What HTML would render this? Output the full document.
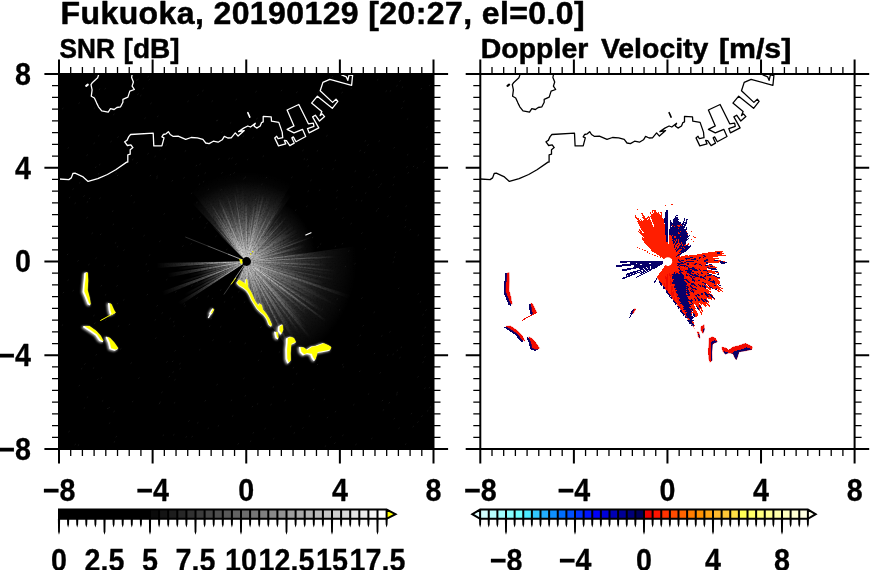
<!DOCTYPE html>
<html><head><meta charset="utf-8"><title>Fukuoka radar</title>
<style>html,body{margin:0;padding:0;background:#fff;}svg{display:block;}text{font-family:"Liberation Sans",sans-serif;font-weight:bold;fill:#000;}</style>
</head><body>
<svg width="870" height="570" viewBox="0 0 870 570">
<rect x="0" y="0" width="870" height="570" fill="#fff"/>
<defs>
<radialGradient id="g30" gradientUnits="userSpaceOnUse" cx="246.6" cy="261.5" r="30"><stop offset="0" stop-color="#fff" stop-opacity="1"/><stop offset="0.12" stop-color="#fff" stop-opacity="0.95"/><stop offset="0.3" stop-color="#fff" stop-opacity="0.62"/><stop offset="0.5" stop-color="#fff" stop-opacity="0.38"/><stop offset="0.75" stop-color="#fff" stop-opacity="0.16"/><stop offset="1" stop-color="#fff" stop-opacity="0"/></radialGradient>
<radialGradient id="g40" gradientUnits="userSpaceOnUse" cx="246.6" cy="261.5" r="40"><stop offset="0" stop-color="#fff" stop-opacity="1"/><stop offset="0.12" stop-color="#fff" stop-opacity="0.95"/><stop offset="0.3" stop-color="#fff" stop-opacity="0.62"/><stop offset="0.5" stop-color="#fff" stop-opacity="0.38"/><stop offset="0.75" stop-color="#fff" stop-opacity="0.16"/><stop offset="1" stop-color="#fff" stop-opacity="0"/></radialGradient>
<radialGradient id="g50" gradientUnits="userSpaceOnUse" cx="246.6" cy="261.5" r="50"><stop offset="0" stop-color="#fff" stop-opacity="1"/><stop offset="0.12" stop-color="#fff" stop-opacity="0.95"/><stop offset="0.3" stop-color="#fff" stop-opacity="0.62"/><stop offset="0.5" stop-color="#fff" stop-opacity="0.38"/><stop offset="0.75" stop-color="#fff" stop-opacity="0.16"/><stop offset="1" stop-color="#fff" stop-opacity="0"/></radialGradient>
<radialGradient id="g60" gradientUnits="userSpaceOnUse" cx="246.6" cy="261.5" r="60"><stop offset="0" stop-color="#fff" stop-opacity="1"/><stop offset="0.12" stop-color="#fff" stop-opacity="0.95"/><stop offset="0.3" stop-color="#fff" stop-opacity="0.62"/><stop offset="0.5" stop-color="#fff" stop-opacity="0.38"/><stop offset="0.75" stop-color="#fff" stop-opacity="0.16"/><stop offset="1" stop-color="#fff" stop-opacity="0"/></radialGradient>
<radialGradient id="g70" gradientUnits="userSpaceOnUse" cx="246.6" cy="261.5" r="70"><stop offset="0" stop-color="#fff" stop-opacity="1"/><stop offset="0.12" stop-color="#fff" stop-opacity="0.95"/><stop offset="0.3" stop-color="#fff" stop-opacity="0.62"/><stop offset="0.5" stop-color="#fff" stop-opacity="0.38"/><stop offset="0.75" stop-color="#fff" stop-opacity="0.16"/><stop offset="1" stop-color="#fff" stop-opacity="0"/></radialGradient>
<radialGradient id="g80" gradientUnits="userSpaceOnUse" cx="246.6" cy="261.5" r="80"><stop offset="0" stop-color="#fff" stop-opacity="1"/><stop offset="0.12" stop-color="#fff" stop-opacity="0.95"/><stop offset="0.3" stop-color="#fff" stop-opacity="0.62"/><stop offset="0.5" stop-color="#fff" stop-opacity="0.38"/><stop offset="0.75" stop-color="#fff" stop-opacity="0.16"/><stop offset="1" stop-color="#fff" stop-opacity="0"/></radialGradient>
<radialGradient id="g90" gradientUnits="userSpaceOnUse" cx="246.6" cy="261.5" r="90"><stop offset="0" stop-color="#fff" stop-opacity="1"/><stop offset="0.12" stop-color="#fff" stop-opacity="0.95"/><stop offset="0.3" stop-color="#fff" stop-opacity="0.62"/><stop offset="0.5" stop-color="#fff" stop-opacity="0.38"/><stop offset="0.75" stop-color="#fff" stop-opacity="0.16"/><stop offset="1" stop-color="#fff" stop-opacity="0"/></radialGradient>
<radialGradient id="g100" gradientUnits="userSpaceOnUse" cx="246.6" cy="261.5" r="100"><stop offset="0" stop-color="#fff" stop-opacity="1"/><stop offset="0.12" stop-color="#fff" stop-opacity="0.95"/><stop offset="0.3" stop-color="#fff" stop-opacity="0.62"/><stop offset="0.5" stop-color="#fff" stop-opacity="0.38"/><stop offset="0.75" stop-color="#fff" stop-opacity="0.16"/><stop offset="1" stop-color="#fff" stop-opacity="0"/></radialGradient>
<radialGradient id="g110" gradientUnits="userSpaceOnUse" cx="246.6" cy="261.5" r="110"><stop offset="0" stop-color="#fff" stop-opacity="1"/><stop offset="0.12" stop-color="#fff" stop-opacity="0.95"/><stop offset="0.3" stop-color="#fff" stop-opacity="0.62"/><stop offset="0.5" stop-color="#fff" stop-opacity="0.38"/><stop offset="0.75" stop-color="#fff" stop-opacity="0.16"/><stop offset="1" stop-color="#fff" stop-opacity="0"/></radialGradient>
<filter id="blur" x="-50%" y="-50%" width="200%" height="200%"><feGaussianBlur stdDeviation="1.1"/></filter>
<filter id="grain" x="0" y="0" width="100%" height="100%" filterUnits="objectBoundingBox"><feTurbulence type="fractalNoise" baseFrequency="0.6" numOctaves="1" seed="4" result="n"/><feColorMatrix in="n" type="matrix" values="0 0 0 0 1  0 0 0 0 1  0 0 0 0 1  0.9 0 0 0 0.52" result="a"/><feComposite in="SourceGraphic" in2="a" operator="in"/></filter>
<filter id="blur2" x="-50%" y="-50%" width="200%" height="200%"><feGaussianBlur stdDeviation="0.6"/></filter>
<clipPath id="clipL"><rect x="59.0" y="74.0" width="374.5" height="375.0"/></clipPath>
<clipPath id="clipR"><rect x="480.3" y="74.0" width="374.3" height="375.0"/></clipPath>
<clipPath id="hpL"><path d="M139.1,147.5 L436.1,548.0 L836.1,548.0 L539.1,147.5 Z"/></clipPath>
<clipPath id="hpR"><path d="M560.4,147.5 L857.4,548.0 L1257.4,548.0 L960.4,147.5 Z"/></clipPath>
</defs>
<rect x="59.0" y="74.0" width="374.5" height="375.0" fill="#000"/>
<g clip-path="url(#clipL)">
<g filter="url(#grain)">
<g><path d="M244.2,258.9 L192.0,203.0 A80,80 0 0 1 291.3,195.2 L248.6,258.6 A3.5,3.5 0 0 0 244.2,258.9Z" fill="url(#g80)" fill-opacity="0.45"/><path d="M244.4,258.7 L191.2,190.6 A90,90 0 0 1 291.6,183.6 L248.3,258.5 A3.5,3.5 0 0 0 244.4,258.7Z" fill="url(#g90)" fill-opacity="0.25"/><path d="M248.6,258.6 L285.7,203.5 A70,70 0 0 1 316.2,254.2 L250.1,261.1 A3.5,3.5 0 0 0 248.6,258.6Z" fill="url(#g70)" fill-opacity="0.5"/><path d="M250.1,261.0 L355.5,246.2 A110,110 0 0 1 350.0,299.1 L249.9,262.7 A3.5,3.5 0 0 0 250.1,261.0Z" fill="url(#g110)" fill-opacity="0.4"/><path d="M250.1,261.5 L336.6,261.5 L336.6,263.4 L250.1,261.6Z" fill="url(#g90)" fill-opacity="0.10"/><path d="M250.1,261.6 L326.6,263.0 L326.5,264.7 L250.1,261.6Z" fill="url(#g80)" fill-opacity="0.35"/><path d="M250.1,261.6 L326.5,264.6 L326.5,266.2 L250.1,261.7Z" fill="url(#g80)" fill-opacity="0.85"/><path d="M250.1,261.7 L306.5,265.0 L306.4,266.2 L250.1,261.8Z" fill="url(#g60)" fill-opacity="0.40"/><path d="M250.1,261.8 L316.4,266.9 L316.3,268.3 L250.1,261.8Z" fill="url(#g70)" fill-opacity="0.22"/><path d="M250.1,261.8 L336.2,270.1 L336.0,272.0 L250.1,261.9Z" fill="url(#g90)" fill-opacity="0.56"/><path d="M250.1,261.9 L306.2,268.4 L306.0,269.6 L250.1,262.0Z" fill="url(#g60)" fill-opacity="0.30"/><path d="M250.1,262.0 L335.8,273.6 L335.5,275.4 L250.1,262.0Z" fill="url(#g90)" fill-opacity="0.23"/><path d="M250.1,262.0 L315.8,272.2 L315.5,273.7 L250.0,262.1Z" fill="url(#g70)" fill-opacity="0.18"/><path d="M250.0,262.1 L295.9,270.1 L295.7,271.1 L250.0,262.2Z" fill="url(#g50)" fill-opacity="0.80"/><path d="M250.0,262.2 L334.9,278.7 L334.6,280.5 L250.0,262.2Z" fill="url(#g90)" fill-opacity="0.48"/><path d="M250.0,262.2 L324.8,278.3 L324.5,279.9 L250.0,262.3Z" fill="url(#g80)" fill-opacity="0.19"/><path d="M250.0,262.3 L305.0,275.2 L304.7,276.4 L250.0,262.4Z" fill="url(#g60)" fill-opacity="0.78"/><path d="M250.0,262.4 L324.1,281.3 L323.7,282.9 L250.0,262.4Z" fill="url(#g80)" fill-opacity="0.42"/><path d="M250.0,262.4 L323.7,282.7 L323.3,284.4 L250.0,262.5Z" fill="url(#g80)" fill-opacity="0.63"/><path d="M250.0,262.5 L323.3,284.2 L322.8,285.8 L249.9,262.6Z" fill="url(#g80)" fill-opacity="0.20"/><path d="M249.9,262.6 L322.9,285.7 L322.3,287.3 L249.9,262.6Z" fill="url(#g80)" fill-opacity="0.33"/><path d="M244.1,259.1 L218.0,233.5 L218.6,232.9 L244.2,259.0Z" fill="url(#g40)" fill-opacity="0.70"/><path d="M244.1,259.0 L211.6,225.8 L212.3,225.1 L244.2,259.0Z" fill="url(#g50)" fill-opacity="0.79"/><path d="M244.2,259.0 L226.0,239.7 L226.4,239.3 L244.2,258.9Z" fill="url(#g30)" fill-opacity="0.77"/><path d="M244.2,258.9 L212.9,224.5 L213.7,223.8 L244.3,258.9Z" fill="url(#g50)" fill-opacity="1.00"/><path d="M244.3,258.9 L220.3,231.4 L220.9,230.9 L244.4,258.8Z" fill="url(#g40)" fill-opacity="0.48"/><path d="M244.3,258.8 L214.4,223.3 L215.2,222.6 L244.4,258.8Z" fill="url(#g50)" fill-opacity="0.12"/><path d="M244.4,258.8 L215.1,222.6 L216.0,222.0 L244.5,258.7Z" fill="url(#g50)" fill-opacity="0.99"/><path d="M244.5,258.7 L215.9,222.0 L216.7,221.4 L244.5,258.7Z" fill="url(#g50)" fill-opacity="0.91"/><path d="M244.5,258.7 L216.6,221.5 L217.5,220.8 L244.6,258.7Z" fill="url(#g50)" fill-opacity="0.35"/><path d="M244.6,258.7 L217.4,220.9 L218.3,220.3 L244.6,258.6Z" fill="url(#g50)" fill-opacity="0.69"/><path d="M244.6,258.6 L212.5,212.1 L213.6,211.4 L244.7,258.6Z" fill="url(#g60)" fill-opacity="1.00"/><path d="M244.7,258.6 L219.0,219.8 L219.9,219.2 L244.7,258.5Z" fill="url(#g50)" fill-opacity="0.50"/><path d="M244.7,258.5 L209.1,202.4 L210.3,201.6 L244.8,258.5Z" fill="url(#g70)" fill-opacity="0.80"/><path d="M244.8,258.5 L220.6,218.8 L221.5,218.2 L244.8,258.5Z" fill="url(#g50)" fill-opacity="0.73"/><path d="M244.8,258.5 L221.4,218.3 L222.4,217.8 L244.9,258.4Z" fill="url(#g50)" fill-opacity="0.94"/><path d="M244.9,258.4 L217.4,209.1 L218.5,208.5 L245.0,258.4Z" fill="url(#g60)" fill-opacity="1.00"/><path d="M245.0,258.4 L218.4,208.5 L219.5,207.9 L245.0,258.4Z" fill="url(#g60)" fill-opacity="0.33"/><path d="M245.0,258.4 L224.0,216.9 L224.9,216.4 L245.1,258.3Z" fill="url(#g50)" fill-opacity="0.73"/><path d="M245.1,258.3 L220.5,207.5 L221.6,206.9 L245.1,258.3Z" fill="url(#g60)" fill-opacity="1.00"/><path d="M245.1,258.3 L217.3,197.9 L218.7,197.3 L245.2,258.3Z" fill="url(#g70)" fill-opacity="1.00"/><path d="M245.2,258.3 L218.6,197.4 L219.9,196.8 L245.3,258.3Z" fill="url(#g70)" fill-opacity="0.16"/><path d="M245.3,258.3 L219.8,196.8 L221.2,196.3 L245.3,258.2Z" fill="url(#g70)" fill-opacity="0.35"/><path d="M245.3,258.2 L224.7,205.6 L225.9,205.2 L245.4,258.2Z" fill="url(#g60)" fill-opacity="0.62"/><path d="M245.4,258.2 L232.7,224.0 L233.5,223.7 L245.5,258.2Z" fill="url(#g40)" fill-opacity="1.00"/><path d="M245.4,258.2 L230.2,214.3 L231.1,213.9 L245.5,258.2Z" fill="url(#g50)" fill-opacity="0.64"/><path d="M245.5,258.2 L224.9,195.0 L226.3,194.5 L245.6,258.2Z" fill="url(#g70)" fill-opacity="0.11"/><path d="M245.6,258.2 L226.1,194.6 L227.5,194.1 L245.6,258.1Z" fill="url(#g70)" fill-opacity="0.64"/><path d="M245.6,258.1 L232.9,213.4 L233.9,213.1 L245.7,258.1Z" fill="url(#g50)" fill-opacity="0.69"/><path d="M245.7,258.1 L233.8,213.2 L234.8,212.9 L245.8,258.1Z" fill="url(#g50)" fill-opacity="1.00"/><path d="M245.8,258.1 L230.0,193.5 L231.4,193.2 L245.8,258.1Z" fill="url(#g70)" fill-opacity="0.13"/><path d="M245.8,258.1 L233.5,202.9 L234.7,202.7 L245.9,258.1Z" fill="url(#g60)" fill-opacity="0.42"/><path d="M245.9,258.1 L236.6,212.5 L237.7,212.3 L246.0,258.1Z" fill="url(#g50)" fill-opacity="1.00"/><path d="M246.0,258.1 L234.0,192.6 L235.4,192.4 L246.0,258.0Z" fill="url(#g70)" fill-opacity="1.00"/><path d="M246.0,258.0 L240.1,222.0 L241.0,221.9 L246.1,258.0Z" fill="url(#g40)" fill-opacity="0.37"/><path d="M246.1,258.0 L235.2,182.3 L236.9,182.1 L246.2,258.0Z" fill="url(#g80)" fill-opacity="0.28"/><path d="M246.2,258.0 L240.4,211.9 L241.5,211.8 L246.2,258.0Z" fill="url(#g50)" fill-opacity="0.46"/><path d="M246.2,258.0 L239.3,191.9 L240.7,191.7 L246.3,258.0Z" fill="url(#g70)" fill-opacity="0.34"/><path d="M246.3,258.0 L240.6,191.8 L242.1,191.6 L246.4,258.0Z" fill="url(#g70)" fill-opacity="0.21"/><path d="M246.4,258.0 L241.3,181.7 L243.0,181.6 L246.4,258.0Z" fill="url(#g80)" fill-opacity="0.19"/><path d="M246.4,258.0 L244.7,221.5 L245.6,221.5 L246.5,258.0Z" fill="url(#g40)" fill-opacity="0.60"/><path d="M246.5,258.0 L244.9,201.5 L246.2,201.5 L246.6,258.0Z" fill="url(#g60)" fill-opacity="1.00"/><path d="M246.6,258.0 L246.1,201.5 L247.3,201.5 L246.6,258.0Z" fill="url(#g60)" fill-opacity="0.87"/><path d="M246.6,258.0 L247.1,211.5 L248.2,211.5 L246.7,258.0Z" fill="url(#g50)" fill-opacity="0.15"/><path d="M246.7,258.0 L248.1,211.5 L249.1,211.6 L246.8,258.0Z" fill="url(#g50)" fill-opacity="0.20"/><path d="M246.8,258.0 L248.6,221.5 L249.4,221.6 L246.8,258.0Z" fill="url(#g40)" fill-opacity="0.13"/><path d="M246.8,258.0 L250.0,211.6 L251.0,211.7 L246.9,258.0Z" fill="url(#g50)" fill-opacity="1.00"/><path d="M246.9,258.0 L251.0,211.7 L252.0,211.8 L247.0,258.0Z" fill="url(#g50)" fill-opacity="0.58"/><path d="M247.0,258.0 L254.0,191.9 L255.5,192.1 L247.0,258.0Z" fill="url(#g70)" fill-opacity="0.26"/><path d="M247.0,258.0 L254.1,202.0 L255.4,202.1 L247.1,258.0Z" fill="url(#g60)" fill-opacity="1.00"/><path d="M247.1,258.0 L258.1,182.3 L259.8,182.6 L247.2,258.0Z" fill="url(#g80)" fill-opacity="0.10"/><path d="M247.2,258.0 L256.4,202.3 L257.6,202.5 L247.2,258.1Z" fill="url(#g60)" fill-opacity="0.12"/><path d="M247.2,258.1 L259.4,192.7 L260.8,193.0 L247.3,258.1Z" fill="url(#g70)" fill-opacity="0.62"/><path d="M247.3,258.1 L258.7,202.7 L259.9,203.0 L247.4,258.1Z" fill="url(#g60)" fill-opacity="0.99"/><path d="M247.4,258.1 L262.0,193.2 L263.4,193.5 L247.4,258.1Z" fill="url(#g70)" fill-opacity="0.45"/><path d="M247.4,258.1 L263.3,193.5 L264.7,193.9 L247.5,258.1Z" fill="url(#g70)" fill-opacity="1.00"/><path d="M247.5,258.1 L259.5,213.2 L260.5,213.5 L247.6,258.1Z" fill="url(#g50)" fill-opacity="0.85"/><path d="M247.6,258.1 L263.1,203.8 L264.3,204.2 L247.6,258.2Z" fill="url(#g60)" fill-opacity="0.34"/><path d="M247.6,258.2 L267.2,194.6 L268.6,195.0 L247.7,258.2Z" fill="url(#g70)" fill-opacity="0.57"/><path d="M247.7,258.2 L268.5,195.0 L269.9,195.5 L247.8,258.2Z" fill="url(#g70)" fill-opacity="0.28"/><path d="M247.8,258.2 L269.7,195.4 L271.1,195.9 L247.8,258.2Z" fill="url(#g70)" fill-opacity="0.42"/><path d="M247.8,258.2 L267.5,205.3 L268.7,205.7 L247.9,258.2Z" fill="url(#g60)" fill-opacity="0.24"/><path d="M247.9,258.2 L264.9,215.0 L265.9,215.4 L248.0,258.3Z" fill="url(#g50)" fill-opacity="0.16"/><path d="M247.9,258.3 L265.8,215.3 L266.8,215.8 L248.0,258.3Z" fill="url(#g50)" fill-opacity="1.00"/><path d="M248.0,258.3 L270.7,206.6 L271.9,207.1 L248.1,258.3Z" fill="url(#g60)" fill-opacity="1.00"/><path d="M248.1,258.3 L276.0,198.0 L277.3,198.6 L248.1,258.4Z" fill="url(#g70)" fill-opacity="0.12"/><path d="M248.1,258.4 L277.2,198.5 L278.5,199.2 L248.2,258.4Z" fill="url(#g70)" fill-opacity="0.12"/><path d="M248.2,258.4 L278.4,199.1 L279.7,199.8 L248.3,258.4Z" fill="url(#g70)" fill-opacity="0.10"/><path d="M248.2,258.4 L270.2,217.4 L271.1,217.9 L248.3,258.4Z" fill="url(#g50)" fill-opacity="0.21"/><path d="M248.3,258.4 L275.9,209.1 L277.0,209.7 L248.4,258.5Z" fill="url(#g60)" fill-opacity="1.00"/><path d="M248.4,258.5 L281.9,201.1 L283.2,201.8 L248.4,258.5Z" fill="url(#g70)" fill-opacity="0.77"/><path d="M248.4,258.5 L283.1,201.8 L284.3,202.5 L248.5,258.6Z" fill="url(#g70)" fill-opacity="0.17"/><path d="M248.5,258.5 L273.5,219.3 L274.3,219.9 L248.5,258.6Z" fill="url(#g50)" fill-opacity="1.00"/><path d="M248.5,258.6 L268.7,228.2 L269.4,228.7 L248.6,258.6Z" fill="url(#g40)" fill-opacity="0.62"/><path d="M248.6,258.6 L269.4,228.6 L270.1,229.1 L248.7,258.7Z" fill="url(#g40)" fill-opacity="0.88"/><path d="M248.6,258.7 L281.7,212.8 L282.7,213.6 L248.7,258.7Z" fill="url(#g60)" fill-opacity="0.58"/><path d="M248.7,258.7 L270.6,229.5 L271.3,230.0 L248.8,258.7Z" fill="url(#g40)" fill-opacity="0.87"/><path d="M248.8,258.7 L271.2,230.0 L271.9,230.5 L248.8,258.8Z" fill="url(#g40)" fill-opacity="1.00"/><path d="M248.8,258.8 L278.1,222.7 L278.9,223.4 L248.9,258.8Z" fill="url(#g50)" fill-opacity="0.97"/><path d="M248.9,258.8 L285.3,215.7 L286.3,216.5 L248.9,258.9Z" fill="url(#g60)" fill-opacity="0.21"/><path d="M248.9,258.9 L286.2,216.4 L287.1,217.3 L249.0,258.9Z" fill="url(#g60)" fill-opacity="0.97"/><path d="M249.0,258.9 L273.6,232.0 L274.2,232.5 L249.0,259.0Z" fill="url(#g40)" fill-opacity="1.00"/><path d="M249.0,259.0 L274.1,232.5 L274.7,233.1 L249.1,259.0Z" fill="url(#g40)" fill-opacity="0.28"/><path d="M249.1,259.0 L281.7,225.9 L282.4,226.6 L249.1,259.1Z" fill="url(#g50)" fill-opacity="0.62"/><path d="M249.1,259.1 L282.4,226.6 L283.1,227.3 L249.2,259.1Z" fill="url(#g50)" fill-opacity="0.40"/><path d="M249.2,259.1 L275.8,234.1 L276.3,234.7 L249.2,259.2Z" fill="url(#g40)" fill-opacity="0.31"/><path d="M249.2,259.2 L276.3,234.7 L276.8,235.3 L249.2,259.2Z" fill="url(#g40)" fill-opacity="0.53"/><path d="M249.2,259.2 L291.9,222.1 L292.7,223.1 L249.3,259.3Z" fill="url(#g60)" fill-opacity="0.51"/><path d="M249.3,259.3 L285.0,229.4 L285.6,230.2 L249.3,259.3Z" fill="url(#g50)" fill-opacity="0.22"/><path d="M249.3,259.3 L277.8,236.4 L278.3,237.1 L249.4,259.4Z" fill="url(#g40)" fill-opacity="0.75"/><path d="M249.4,259.4 L294.1,224.8 L294.8,225.8 L249.4,259.4Z" fill="url(#g60)" fill-opacity="0.53"/><path d="M249.4,259.4 L294.8,225.7 L295.5,226.7 L249.5,259.5Z" fill="url(#g60)" fill-opacity="0.39"/><path d="M249.4,259.5 L287.3,232.5 L287.9,233.3 L249.5,259.5Z" fill="url(#g50)" fill-opacity="1.00"/><path d="M249.5,259.5 L287.9,233.3 L288.4,234.1 L249.5,259.6Z" fill="url(#g50)" fill-opacity="1.00"/><path d="M249.5,259.6 L296.7,228.6 L297.4,229.6 L249.6,259.6Z" fill="url(#g60)" fill-opacity="0.57"/><path d="M249.6,259.6 L297.4,229.5 L298.0,230.6 L249.6,259.7Z" fill="url(#g60)" fill-opacity="0.48"/><path d="M249.6,259.7 L298.0,230.5 L298.6,231.6 L249.6,259.8Z" fill="url(#g60)" fill-opacity="0.31"/><path d="M249.6,259.8 L281.2,241.5 L281.7,242.2 L249.7,259.8Z" fill="url(#g40)" fill-opacity="0.62"/><path d="M249.7,259.8 L299.1,232.5 L299.7,233.6 L249.7,259.9Z" fill="url(#g60)" fill-opacity="0.49"/><path d="M249.7,259.9 L290.8,238.2 L291.3,239.1 L249.7,259.9Z" fill="url(#g50)" fill-opacity="0.97"/><path d="M249.7,259.9 L291.3,239.0 L291.7,240.0 L249.8,260.0Z" fill="url(#g50)" fill-opacity="0.40"/><path d="M249.8,260.0 L282.7,244.2 L283.0,245.0 L249.8,260.1Z" fill="url(#g40)" fill-opacity="1.00"/><path d="M249.8,260.0 L301.2,236.6 L301.7,237.8 L249.8,260.1Z" fill="url(#g60)" fill-opacity="0.76"/><path d="M249.8,260.1 L292.5,241.6 L292.9,242.6 L249.8,260.2Z" fill="url(#g50)" fill-opacity="0.19"/><path d="M249.8,260.2 L302.1,238.7 L302.6,239.9 L249.9,260.2Z" fill="url(#g60)" fill-opacity="0.46"/><path d="M249.9,260.2 L311.9,236.2 L312.4,237.6 L249.9,260.3Z" fill="url(#g70)" fill-opacity="0.82"/><path d="M249.9,260.3 L284.2,247.8 L284.4,248.5 L249.9,260.4Z" fill="url(#g40)" fill-opacity="0.22"/><path d="M249.9,260.4 L293.9,245.2 L294.2,246.2 L249.9,260.4Z" fill="url(#g50)" fill-opacity="0.39"/><path d="M249.9,260.4 L284.7,249.2 L284.9,250.0 L250.0,260.5Z" fill="url(#g40)" fill-opacity="0.54"/><path d="M250.0,260.5 L304.0,244.2 L304.4,245.4 L250.0,260.6Z" fill="url(#g60)" fill-opacity="0.53"/><path d="M250.0,260.6 L304.4,245.3 L304.7,246.5 L250.0,260.6Z" fill="url(#g60)" fill-opacity="0.79"/><path d="M250.0,260.6 L304.7,246.4 L305.0,247.6 L250.0,260.7Z" fill="url(#g60)" fill-opacity="0.79"/><path d="M250.0,260.7 L304.9,247.5 L305.2,248.7 L250.0,260.8Z" fill="url(#g60)" fill-opacity="0.09"/><path d="M250.0,260.7 L295.4,250.8 L295.6,251.8 L250.0,260.8Z" fill="url(#g50)" fill-opacity="0.22"/><path d="M250.0,260.8 L305.4,249.7 L305.7,251.0 L250.0,260.9Z" fill="url(#g60)" fill-opacity="0.36"/><path d="M250.0,260.9 L295.8,252.6 L296.0,253.7 L250.1,261.0Z" fill="url(#g50)" fill-opacity="0.49"/><path d="M250.1,260.9 L305.8,252.0 L306.0,253.3 L250.1,261.0Z" fill="url(#g60)" fill-opacity="0.29"/><path d="M250.1,261.0 L306.0,253.1 L306.2,254.4 L250.1,261.1Z" fill="url(#g60)" fill-opacity="0.69"/><path d="M250.1,261.1 L316.1,253.1 L316.3,254.5 L250.1,261.2Z" fill="url(#g70)" fill-opacity="0.20"/><path d="M250.1,261.1 L326.2,253.4 L326.3,255.1 L250.1,261.2Z" fill="url(#g80)" fill-opacity="0.18"/><path d="M250.1,261.2 L326.3,254.9 L326.5,256.6 L250.1,261.3Z" fill="url(#g80)" fill-opacity="0.18"/><path d="M250.1,261.3 L336.4,255.8 L336.5,257.7 L250.1,261.4Z" fill="url(#g90)" fill-opacity="0.81"/><path d="M250.1,261.3 L306.5,258.9 L306.6,260.1 L250.1,261.4Z" fill="url(#g60)" fill-opacity="0.11"/><path d="M250.1,261.4 L326.6,259.5 L326.6,261.2 L250.1,261.5Z" fill="url(#g80)" fill-opacity="0.32"/><path d="M250.1,261.5 L306.6,261.2 L306.6,262.4 L250.1,261.6Z" fill="url(#g60)" fill-opacity="0.30"/><path d="M243.1,261.8 L156.8,267.9 L156.6,262.9 L243.1,261.6Z" fill="url(#g90)" fill-opacity="0.85"/><path d="M243.1,261.9 L177.2,270.3 L176.8,267.4 L243.1,261.8Z" fill="url(#g70)" fill-opacity="0.45"/><path d="M243.2,262.2 L168.2,277.4 L167.5,273.3 L243.1,262.0Z" fill="url(#g80)" fill-opacity="0.75"/><path d="M243.2,262.4 L188.7,277.2 L188.1,274.8 L243.2,262.3Z" fill="url(#g60)" fill-opacity="0.4"/><path d="M243.3,262.6 L180.2,283.7 L179.5,281.4 L243.2,262.5Z" fill="url(#g70)" fill-opacity="0.5"/><path d="M243.4,262.8 L163.3,295.5 L161.7,291.4 L243.3,262.7Z" fill="url(#g90)" fill-opacity="0.8"/><path d="M243.5,263.0 L192.8,288.0 L191.7,285.7 L243.4,262.9Z" fill="url(#g60)" fill-opacity="0.45"/><path d="M243.6,263.2 L185.7,296.0 L184.5,293.8 L243.5,263.1Z" fill="url(#g70)" fill-opacity="0.5"/><path d="M243.7,263.4 L179.7,305.4 L177.8,302.3 L243.6,263.3Z" fill="url(#g80)" fill-opacity="0.75"/><path d="M243.7,263.4 L204.9,289.1 A50,50 0 0 1 196.6,261.9 L243.1,261.5 A3.5,3.5 0 0 0 243.7,263.4Z" fill="url(#g50)" fill-opacity="0.55"/></g>
<g clip-path="url(#hpL)"><path d="M249.9,262.6 L351.2,295.5 A110,110 0 0 1 195.0,358.6 L245.0,264.6 A3.5,3.5 0 0 0 249.9,262.6Z" fill="url(#g110)" fill-opacity="0.48"/><path d="M249.9,262.6 L341.3,293.6 L340.6,295.5 L249.9,262.7Z" fill="url(#g100)" fill-opacity="0.33"/><path d="M249.9,262.7 L312.5,285.2 L312.0,286.6 L249.9,262.8Z" fill="url(#g70)" fill-opacity="0.73"/><path d="M249.9,262.7 L312.0,286.5 L311.5,287.8 L249.8,262.8Z" fill="url(#g70)" fill-opacity="0.53"/><path d="M249.8,262.8 L311.5,287.7 L310.9,289.1 L249.8,262.9Z" fill="url(#g70)" fill-opacity="0.41"/><path d="M249.8,262.9 L320.2,292.9 L319.5,294.4 L249.8,262.9Z" fill="url(#g80)" fill-opacity="0.61"/><path d="M249.8,262.9 L328.7,298.4 L327.9,300.1 L249.8,263.0Z" fill="url(#g90)" fill-opacity="0.41"/><path d="M249.8,263.0 L337.0,304.2 L336.1,306.1 L249.7,263.1Z" fill="url(#g100)" fill-opacity="0.37"/><path d="M249.7,263.1 L327.2,301.5 L326.4,303.2 L249.7,263.1Z" fill="url(#g90)" fill-opacity="0.18"/><path d="M249.7,263.1 L317.6,298.4 L316.8,299.9 L249.7,263.2Z" fill="url(#g80)" fill-opacity="0.38"/><path d="M249.7,263.2 L316.8,299.8 L316.0,301.3 L249.6,263.2Z" fill="url(#g80)" fill-opacity="0.59"/><path d="M249.6,263.2 L298.7,291.2 L298.1,292.3 L249.6,263.3Z" fill="url(#g60)" fill-opacity="0.37"/><path d="M249.6,263.3 L323.9,307.6 L322.9,309.2 L249.6,263.4Z" fill="url(#g90)" fill-opacity="0.12"/><path d="M249.6,263.3 L323.0,309.1 L322.0,310.6 L249.5,263.4Z" fill="url(#g90)" fill-opacity="0.48"/><path d="M249.5,263.4 L322.1,310.5 L321.0,312.1 L249.5,263.5Z" fill="url(#g90)" fill-opacity="0.95"/><path d="M249.5,263.5 L304.6,300.7 L303.7,302.0 L249.5,263.5Z" fill="url(#g70)" fill-opacity="0.10"/><path d="M249.5,263.5 L303.8,301.9 L302.9,303.0 L249.4,263.6Z" fill="url(#g70)" fill-opacity="0.55"/><path d="M249.4,263.6 L327.2,320.7 L325.9,322.4 L249.4,263.6Z" fill="url(#g100)" fill-opacity="0.96"/><path d="M249.4,263.6 L310.2,310.1 L309.1,311.4 L249.3,263.7Z" fill="url(#g80)" fill-opacity="0.82"/><path d="M249.3,263.7 L293.6,298.9 L292.8,299.8 L249.3,263.7Z" fill="url(#g60)" fill-opacity="0.82"/><path d="M249.3,263.7 L308.2,312.5 L307.2,313.8 L249.2,263.8Z" fill="url(#g80)" fill-opacity="0.28"/><path d="M249.3,263.8 L307.3,313.7 L306.1,314.9 L249.2,263.8Z" fill="url(#g80)" fill-opacity="0.70"/><path d="M249.2,263.8 L298.8,308.2 L297.8,309.2 L249.2,263.9Z" fill="url(#g70)" fill-opacity="0.15"/><path d="M249.2,263.9 L297.9,309.2 L296.9,310.2 L249.1,263.9Z" fill="url(#g70)" fill-opacity="0.29"/><path d="M249.1,263.9 L304.1,317.1 L303.0,318.3 L249.1,264.0Z" fill="url(#g80)" fill-opacity="0.17"/><path d="M249.1,264.0 L310.1,325.3 L308.8,326.6 L249.0,264.0Z" fill="url(#g90)" fill-opacity="0.40"/><path d="M249.0,264.0 L302.0,319.2 L300.8,320.4 L249.0,264.1Z" fill="url(#g80)" fill-opacity="0.76"/><path d="M249.0,264.1 L307.6,327.6 L306.2,328.9 L248.9,264.1Z" fill="url(#g90)" fill-opacity="0.42"/><path d="M248.9,264.1 L306.4,328.8 L304.9,330.0 L248.9,264.2Z" fill="url(#g90)" fill-opacity="0.87"/><path d="M248.9,264.2 L311.5,337.5 L309.9,338.9 L248.8,264.2Z" fill="url(#g100)" fill-opacity="0.77"/><path d="M248.8,264.2 L310.1,338.8 L308.4,340.1 L248.8,264.3Z" fill="url(#g100)" fill-opacity="0.09"/><path d="M248.8,264.2 L296.2,324.3 L294.9,325.3 L248.7,264.3Z" fill="url(#g80)" fill-opacity="0.25"/><path d="M248.7,264.3 L301.0,333.2 L299.5,334.3 L248.7,264.3Z" fill="url(#g90)" fill-opacity="0.76"/><path d="M248.7,264.3 L299.6,334.2 L298.1,335.3 L248.6,264.4Z" fill="url(#g90)" fill-opacity="0.16"/><path d="M248.6,264.4 L286.8,318.8 L285.5,319.7 L248.5,264.4Z" fill="url(#g70)" fill-opacity="0.11"/><path d="M248.6,264.4 L291.2,327.9 L289.8,328.8 L248.5,264.4Z" fill="url(#g80)" fill-opacity="0.78"/><path d="M248.5,264.4 L295.4,337.2 L293.8,338.2 L248.4,264.5Z" fill="url(#g90)" fill-opacity="0.55"/><path d="M248.4,264.5 L293.9,338.1 L292.3,339.0 L248.4,264.5Z" fill="url(#g90)" fill-opacity="0.79"/><path d="M248.4,264.5 L287.3,330.4 L285.9,331.2 L248.3,264.5Z" fill="url(#g80)" fill-opacity="0.08"/><path d="M248.3,264.5 L276.1,313.7 L275.0,314.3 L248.3,264.6Z" fill="url(#g60)" fill-opacity="0.42"/><path d="M248.3,264.6 L284.6,331.9 L283.2,332.7 L248.2,264.6Z" fill="url(#g80)" fill-opacity="0.49"/><path d="M248.2,264.6 L292.5,350.4 L290.6,351.3 L248.1,264.6Z" fill="url(#g100)" fill-opacity="0.80"/><path d="M248.1,264.6 L277.5,324.3 L276.2,324.9 L248.1,264.7Z" fill="url(#g70)" fill-opacity="0.14"/><path d="M248.1,264.7 L272.1,315.8 L270.9,316.4 L248.0,264.7Z" fill="url(#g60)" fill-opacity="0.62"/><path d="M248.0,264.7 L279.1,334.6 L277.6,335.2 L248.0,264.7Z" fill="url(#g80)" fill-opacity="0.21"/><path d="M248.0,264.7 L281.6,344.4 L279.9,345.1 L247.9,264.8Z" fill="url(#g90)" fill-opacity="0.17"/><path d="M247.9,264.7 L268.9,317.2 L267.7,317.7 L247.8,264.8Z" fill="url(#g60)" fill-opacity="0.83"/><path d="M247.8,264.8 L278.4,345.7 L276.6,346.3 L247.8,264.8Z" fill="url(#g90)" fill-opacity="0.49"/><path d="M247.8,264.8 L270.1,327.4 L268.7,327.9 L247.7,264.8Z" fill="url(#g70)" fill-opacity="0.97"/><path d="M247.7,264.8 L275.2,346.8 L273.4,347.4 L247.6,264.8Z" fill="url(#g90)" fill-opacity="0.17"/><path d="M247.6,264.8 L264.5,318.8 L263.3,319.1 L247.6,264.9Z" fill="url(#g60)" fill-opacity="0.89"/><path d="M247.6,264.9 L271.9,347.9 L270.0,348.4 L247.5,264.9Z" fill="url(#g90)" fill-opacity="0.40"/><path d="M247.5,264.9 L262.3,319.4 L261.1,319.7 L247.4,264.9Z" fill="url(#g60)" fill-opacity="0.82"/><path d="M247.5,264.9 L268.5,348.8 L266.7,349.2 L247.4,264.9Z" fill="url(#g90)" fill-opacity="0.62"/><path d="M247.4,264.9 L260.1,320.0 L258.9,320.2 L247.3,264.9Z" fill="url(#g60)" fill-opacity="0.50"/><path d="M247.3,264.9 L261.0,330.0 L259.6,330.3 L247.2,264.9Z" fill="url(#g70)" fill-opacity="0.09"/><path d="M247.3,264.9 L257.8,320.4 L256.6,320.7 L247.2,265.0Z" fill="url(#g60)" fill-opacity="0.78"/><path d="M247.2,264.9 L258.4,330.5 L256.9,330.7 L247.1,265.0Z" fill="url(#g70)" fill-opacity="0.08"/><path d="M247.1,265.0 L255.6,320.8 L254.3,321.0 L247.1,265.0Z" fill="url(#g60)" fill-opacity="0.11"/><path d="M247.1,265.0 L257.0,340.8 L255.4,341.0 L247.0,265.0Z" fill="url(#g80)" fill-opacity="0.09"/><path d="M247.0,265.0 L254.4,331.1 L252.9,331.2 L246.9,265.0Z" fill="url(#g70)" fill-opacity="0.66"/><path d="M246.9,265.0 L253.1,331.2 L251.6,331.3 L246.9,265.0Z" fill="url(#g70)" fill-opacity="0.15"/><path d="M246.9,265.0 L253.9,361.2 L251.8,361.4 L246.8,265.0Z" fill="url(#g100)" fill-opacity="0.54"/><path d="M246.8,265.0 L250.4,331.4 L248.9,331.5 L246.7,265.0Z" fill="url(#g70)" fill-opacity="0.99"/><path d="M246.7,265.0 L249.7,351.4 L247.9,351.5 L246.6,265.0Z" fill="url(#g90)" fill-opacity="0.08"/><path d="M246.7,265.0 L247.9,341.5 L246.2,341.5 L246.6,265.0Z" fill="url(#g80)" fill-opacity="0.91"/><path d="M246.6,265.0 L246.3,351.5 L244.4,351.5 L246.5,265.0Z" fill="url(#g90)" fill-opacity="0.74"/><path d="M246.5,265.0 L244.6,351.5 L242.7,351.4 L246.4,265.0Z" fill="url(#g90)" fill-opacity="0.56"/><path d="M246.5,265.0 L243.7,331.4 L242.2,331.4 L246.4,265.0Z" fill="url(#g70)" fill-opacity="0.09"/><path d="M246.4,265.0 L242.9,321.4 L241.7,321.3 L246.3,265.0Z" fill="url(#g60)" fill-opacity="0.25"/><path d="M246.3,265.0 L241.8,321.3 L240.5,321.2 L246.2,265.0Z" fill="url(#g60)" fill-opacity="0.89"/><path d="M246.3,265.0 L240.6,321.2 L239.4,321.1 L246.2,265.0Z" fill="url(#g60)" fill-opacity="0.63"/><path d="M246.2,265.0 L238.3,331.0 L236.9,330.8 L246.1,265.0Z" fill="url(#g70)" fill-opacity="0.32"/><path d="M246.1,265.0 L235.6,340.7 L233.9,340.5 L246.0,265.0Z" fill="url(#g80)" fill-opacity="0.18"/><path d="M246.1,265.0 L235.6,330.6 L234.2,330.4 L246.0,264.9Z" fill="url(#g70)" fill-opacity="0.49"/><path d="M246.0,264.9 L236.1,320.6 L234.8,320.3 L245.9,264.9Z" fill="url(#g60)" fill-opacity="0.70"/><path d="M245.9,264.9 L233.0,330.2 L231.6,329.9 L245.8,264.9Z" fill="url(#g70)" fill-opacity="0.19"/><path d="M245.9,264.9 L233.8,320.1 L232.6,319.8 L245.8,264.9Z" fill="url(#g60)" fill-opacity="0.34"/><path d="M245.8,264.9 L225.7,349.0 L223.9,348.6 L245.7,264.9Z" fill="url(#g90)" fill-opacity="0.90"/><path d="M245.7,264.9 L229.1,329.3 L227.7,328.9 L245.7,264.9Z" fill="url(#g70)" fill-opacity="0.13"/><path d="M245.7,264.9 L225.1,338.6 L223.5,338.1 L245.6,264.9Z" fill="url(#g80)" fill-opacity="0.22"/><path d="M245.6,264.9 L223.6,338.1 L222.0,337.6 L245.5,264.8Z" fill="url(#g80)" fill-opacity="0.25"/><path d="M245.5,264.8 L225.2,328.1 L223.8,327.7 L245.5,264.8Z" fill="url(#g70)" fill-opacity="0.91"/><path d="M245.5,264.8 L220.7,337.2 L219.1,336.6 L245.4,264.8Z" fill="url(#g80)" fill-opacity="0.61"/><path d="M245.4,264.8 L226.1,317.9 L224.9,317.4 L245.3,264.8Z" fill="url(#g60)" fill-opacity="0.72"/><path d="M245.3,264.8 L210.6,354.8 L208.7,354.0 L245.3,264.7Z" fill="url(#g100)" fill-opacity="0.71"/></g>
</g>
<line x1="242.9" y1="260.0" x2="228.0" y2="254.1" stroke="#fff" stroke-width="0.8" stroke-opacity="0.8"/>
<line x1="228.0" y1="254.1" x2="207.6" y2="245.9" stroke="#fff" stroke-width="0.7" stroke-opacity="0.5"/>
<line x1="207.6" y1="245.9" x2="185.3" y2="237.0" stroke="#fff" stroke-width="0.7" stroke-opacity="0.25"/>
<line x1="244.3" y1="264.8" x2="234.1" y2="279.6" stroke="#fff" stroke-width="1.0" stroke-opacity="0.55"/>
<line x1="234.1" y1="279.6" x2="223.9" y2="294.5" stroke="#fff" stroke-width="0.8" stroke-opacity="0.28"/>
<line x1="305.8" y1="235.0" x2="311.0" y2="232.8" stroke="#fff" stroke-width="1.2" stroke-linecap="round"/>
<circle cx="246.6" cy="261.5" r="4.4" fill="#000"/>
<path d="M239.1,258.9 l3,0.5 l0.5,3 l-1.5,2 l-1,-2.5 z" fill="#ff0"/>
<rect x="250.1" y="253.5" width="1.2" height="1.2" fill="#ff0"/><rect x="252.1" y="251.0" width="1.2" height="1.2" fill="#ff0"/>
<g filter="url(#blur)" fill="#bbb" stroke="#bbb" stroke-width="2.2" stroke-linejoin="round">
<path d="M84.0,274.0 L85.8,273.5 L86.2,281.6 L85.6,290.8 L87.7,298.4 L88.8,305.2 L87.2,304.3 L84.6,297.5 L82.4,292.4 L83.0,284.8 L83.7,279.0 Z"/>
<path d="M107.7,304.2 L109.6,305.2 L111.8,310.3 L113.3,313.3 L109.7,315.1 L108.5,310.9 Z"/>
<path d="M82.8,327.3 L87.5,327.1 L94.4,331.9 L98.8,336.7 L101.5,342.0 L98.7,340.8 L95.0,335.4 L89.3,331.5 Z"/>
<path d="M105.5,337.9 L108.1,339.0 L112.2,343.3 L116.3,349.2 L113.6,350.5 L109.2,349.2 L107.9,343.6 Z"/>
<path d="M236.4,283.3 L238.5,280.4 L242.4,282.7 L245.0,284.5 L245.4,279.9 L246.6,280.4 L247.6,288.2 L250.2,291.9 L252.8,297.7 L255.0,302.4 L258.0,306.5 L258.9,304.0 L261.1,305.5 L262.2,310.2 L265.6,314.1 L268.5,318.8 L271.0,324.5 L270.8,326.7 L268.5,325.1 L266.3,319.4 L263.5,315.4 L260.0,312.6 L256.8,309.3 L253.9,304.8 L251.0,300.0 L248.9,295.3 L246.6,291.3 L242.5,288.2 L238.6,285.9 Z" stroke-width="1.2"/>
<path d="M277.7,327.7 L280.8,325.7 L281.2,330.5 L279.6,334.4 L277.6,331.5 Z"/>
<path d="M273.9,332.8 L275.8,333.4 L276.6,339.2 L275.1,338.2 Z"/>
<path d="M285.8,339.3 L289.0,337.9 L292.0,339.1 L294.0,342.9 L291.2,344.0 L289.3,345.0 L288.6,353.7 L288.8,361.3 L286.8,363.3 L285.3,359.5 L285.1,349.9 L285.7,344.1 Z"/>
<path d="M298.6,348.2 L302.4,348.8 L305.2,351.2 L310.1,347.8 L315.0,346.9 L321.8,344.3 L326.5,346.3 L329.3,348.1 L328.3,350.5 L322.5,351.8 L315.7,352.9 L314.2,358.1 L313.0,360.9 L311.1,358.1 L309.9,354.7 L305.1,353.9 L302.2,355.2 L299.4,352.4 Z"/>
<path d="M211.6,309.5 L212.2,310.5 L210.0,314.5 L209.0,314.0 Z"/>
<path d="M212.0,313.5 L211.0,313.0 L208.3,318.0" fill="none" stroke-width="1.5"/>
</g>
<g filter="url(#blur2)" fill="#fff" stroke="#fff" stroke-width="1.4" stroke-linejoin="round">
<path d="M84.9,273.5 L86.7,273.0 L87.1,281.1 L86.5,290.3 L88.6,297.9 L89.7,304.7 L88.1,303.8 L85.5,297.0 L83.3,291.9 L83.9,284.3 L84.6,278.5 Z"/>
<path d="M108.6,303.7 L110.5,304.7 L112.7,309.8 L114.2,312.8 L110.6,314.6 L109.4,310.4 Z"/>
<path d="M83.7,326.8 L88.4,326.6 L95.3,331.4 L99.7,336.2 L102.4,341.5 L99.6,340.3 L95.9,334.9 L90.2,331.0 Z"/>
<path d="M106.4,337.4 L109.0,338.5 L113.1,342.8 L117.2,348.7 L114.5,350.0 L110.1,348.7 L108.8,343.1 Z"/>
<path d="M236.6,283.0 L238.7,280.1 L242.6,282.4 L245.2,284.2 L245.6,279.6 L246.8,280.1 L247.8,287.9 L250.4,291.6 L253.0,297.4 L255.2,302.1 L258.2,306.2 L259.1,303.7 L261.3,305.2 L262.4,309.9 L265.8,313.8 L268.7,318.5 L271.2,324.2 L271.0,326.4 L268.7,324.8 L266.5,319.1 L263.7,315.1 L260.2,312.3 L257.0,309.0 L254.1,304.5 L251.2,299.7 L249.1,295.0 L246.8,291.0 L242.7,287.9 L238.8,285.6 Z" stroke-width="0.6"/>
<path d="M278.6,327.2 L281.7,325.2 L282.1,330.0 L280.5,333.9 L278.5,331.0 Z"/>
<path d="M274.8,332.3 L276.7,332.9 L277.5,338.7 L276.0,337.7 Z"/>
<path d="M286.7,338.8 L289.9,337.4 L292.9,338.6 L294.9,342.4 L292.1,343.5 L290.2,344.5 L289.5,353.2 L289.7,360.8 L287.7,362.8 L286.2,359.0 L286.0,349.4 L286.6,343.6 Z"/>
<path d="M299.5,347.7 L303.3,348.3 L306.1,350.7 L311.0,347.3 L315.9,346.4 L322.7,343.8 L327.4,345.8 L330.2,347.6 L329.2,350.0 L323.4,351.3 L316.6,352.4 L315.1,357.6 L313.9,360.4 L312.0,357.6 L310.8,354.2 L306.0,353.4 L303.1,354.7 L300.3,351.9 Z"/>
<path d="M212.5,309.0 L213.1,310.0 L210.9,314.0 L209.9,313.5 Z"/>
<path d="M212.0,313.5 L211.0,313.0 L208.3,318.0" fill="none" stroke-width="1.3"/>
</g>
<g fill="#ffff00" stroke="#ffff00" stroke-width="0.2" stroke-linejoin="round">
<path d="M86.0,273.0 L87.8,272.5 L88.2,280.6 L87.6,289.8 L89.7,297.4 L90.8,304.2 L89.2,303.3 L86.6,296.5 L84.4,291.4 L85.0,283.8 L85.7,278.0 Z"/>
<path d="M109.7,303.2 L111.6,304.2 L113.8,309.3 L115.3,312.3 L111.7,314.1 L110.5,309.9 Z"/>
<path d="M84.8,326.3 L89.5,326.1 L96.4,330.9 L100.8,335.7 L103.5,341.0 L100.7,339.8 L97.0,334.4 L91.3,330.5 Z"/>
<path d="M107.5,336.9 L110.1,338.0 L114.2,342.3 L118.3,348.2 L115.6,349.5 L111.2,348.2 L109.9,342.6 Z"/>
<path d="M237.0,282.7 L239.1,279.8 L243.0,282.1 L245.6,283.9 L246.0,279.3 L247.2,279.8 L248.2,287.6 L250.8,291.3 L253.4,297.1 L255.6,301.8 L258.6,305.9 L259.5,303.4 L261.7,304.9 L262.8,309.6 L266.2,313.5 L269.1,318.2 L271.6,323.9 L271.4,326.1 L269.1,324.5 L266.9,318.8 L264.1,314.8 L260.6,312.0 L257.4,308.7 L254.5,304.2 L251.6,299.4 L249.5,294.7 L247.2,290.7 L243.1,287.6 L239.2,285.3 Z"/>
<path d="M279.7,326.7 L282.8,324.7 L283.2,329.5 L281.6,333.4 L279.6,330.5 Z"/>
<path d="M275.9,331.8 L277.8,332.4 L278.6,338.2 L277.1,337.2 Z"/>
<path d="M287.8,338.3 L291.0,336.9 L294.0,338.1 L296.0,341.9 L293.2,343.0 L291.3,344.0 L290.6,352.7 L290.8,360.3 L288.8,362.3 L287.3,358.5 L287.1,348.9 L287.7,343.1 Z"/>
<path d="M300.6,347.2 L304.4,347.8 L307.2,350.2 L312.1,346.8 L317.0,345.9 L323.8,343.3 L328.5,345.3 L331.3,347.1 L330.3,349.5 L324.5,350.8 L317.7,351.9 L316.2,357.1 L315.0,359.9 L313.1,357.1 L311.9,353.7 L307.1,352.9 L304.2,354.2 L301.4,351.4 Z"/>
<path d="M213.6,308.5 L214.2,309.5 L212.0,313.5 L211.0,313.0 Z"/>
<path d="M115.8,312.2 L100.3,320.6" fill="none" stroke-width="1"/>
<path d="M235.9,277.8 L231.0,284.4" fill="none" stroke-width="0.9"/>
</g>
<path d="M79.1,183.3l1.3,-1.1M328.1,84.0l1.3,-1.1M137.3,94.8l1.3,-1.1M173.0,322.3l1.3,-1.1M175.2,292.5l1.3,-1.1M86.8,397.8l1.3,-1.1M110.4,142.1l1.3,-1.1M244.7,396.4l1.3,-1.1M342.2,436.0l1.3,-1.1M342.3,218.6l1.3,-1.1M212.4,340.7l1.3,-1.1M161.3,392.9l1.3,-1.1M399.3,358.2l1.3,-1.1M252.4,138.3l1.3,-1.1M171.7,181.3l1.3,-1.1M182.2,246.7l1.3,-1.1M262.7,156.7l1.3,-1.1M357.4,345.6l1.3,-1.1M375.7,175.3l1.3,-1.1M288.8,318.2l1.3,-1.1M204.3,228.2l1.3,-1.1M361.2,298.7l1.3,-1.1M393.8,257.8l1.3,-1.1M367.9,394.6l1.3,-1.1M353.1,405.3l1.3,-1.1M319.9,244.6l1.3,-1.1M174.3,380.3l1.3,-1.1M112.7,224.9l1.3,-1.1M146.7,295.1l1.3,-1.1M389.4,197.6l1.3,-1.1M359.1,371.9l1.3,-1.1M307.6,166.6l1.3,-1.1M364.6,249.5l1.3,-1.1M334.8,246.9l1.3,-1.1M381.1,336.5l1.3,-1.1M123.2,142.5l1.3,-1.1M375.9,211.5l1.3,-1.1M202.2,91.3l1.3,-1.1M296.0,374.4l1.3,-1.1M393.5,148.3l1.3,-1.1M378.6,141.6l1.3,-1.1M199.4,217.8l1.3,-1.1M272.4,265.6l1.3,-1.1M257.0,270.1l1.3,-1.1M406.3,167.5l1.3,-1.1M138.2,378.7l1.3,-1.1M173.6,326.6l1.3,-1.1M403.2,102.0l1.3,-1.1M350.6,89.0l1.3,-1.1M249.6,238.8l1.3,-1.1M316.8,365.1l1.3,-1.1M78.5,103.7l1.3,-1.1M285.1,340.3l1.3,-1.1M116.9,304.1l1.3,-1.1M116.9,247.3l1.3,-1.1M424.2,388.9l1.3,-1.1M317.4,247.7l1.3,-1.1M400.7,347.8l1.3,-1.1M61.8,325.7l1.3,-1.1M275.4,253.7l1.3,-1.1M222.6,210.8l1.3,-1.1M166.3,362.4l1.3,-1.1M326.2,136.4l1.3,-1.1M342.8,367.5l1.3,-1.1M334.7,160.9l1.3,-1.1M183.3,178.4l1.3,-1.1M393.6,419.2l1.3,-1.1M290.2,127.7l1.3,-1.1M112.0,211.7l1.3,-1.1M103.8,265.9l1.3,-1.1M157.1,117.0l1.3,-1.1M130.7,196.2l1.3,-1.1M307.6,191.7l1.3,-1.1M255.1,199.8l1.3,-1.1M93.7,108.8l1.3,-1.1M154.5,157.0l1.3,-1.1M84.2,364.6l1.3,-1.1M244.8,177.7l1.3,-1.1M361.0,201.3l1.3,-1.1M133.5,202.9l1.3,-1.1M310.3,181.0l1.3,-1.1M159.4,402.9l1.3,-1.1M260.7,351.9l1.3,-1.1M393.6,177.6l1.3,-1.1M258.6,125.4l1.3,-1.1M417.4,377.4l1.3,-1.1M302.3,151.0l1.3,-1.1M420.7,89.2l1.3,-1.1M217.8,426.4l1.3,-1.1M179.3,364.2l1.3,-1.1M422.3,336.4l1.3,-1.1M173.1,435.4l1.3,-1.1M207.6,428.9l1.3,-1.1M108.9,423.7l1.3,-1.1M341.5,93.1l1.3,-1.1M306.6,160.1l1.3,-1.1M253.5,265.5l1.3,-1.1M100.8,378.4l1.3,-1.1M417.6,294.5l1.3,-1.1M210.8,319.3l1.3,-1.1M207.6,296.8l1.3,-1.1M221.3,132.7l1.3,-1.1M377.6,209.3l1.3,-1.1M98.9,89.8l1.3,-1.1M229.9,123.5l1.3,-1.1M321.7,99.5l1.3,-1.1M62.1,109.1l1.3,-1.1M359.6,336.1l1.3,-1.1M379.6,373.4l1.3,-1.1M145.7,264.7l1.3,-1.1M261.3,185.0l1.3,-1.1M197.8,176.3l1.3,-1.1M95.6,355.4l1.3,-1.1M331.7,77.3l1.3,-1.1M149.8,176.1l1.3,-1.1M354.3,264.3l1.3,-1.1M233.5,173.5l1.3,-1.1M284.5,401.0l1.3,-1.1M429.0,86.0l1.3,-1.1M255.4,92.2l1.3,-1.1M373.6,312.8l1.3,-1.1M207.7,189.9l1.3,-1.1M83.7,408.6l1.3,-1.1M398.4,428.8l1.3,-1.1M401.8,87.8l1.3,-1.1M385.6,91.7l1.3,-1.1M424.3,357.5l1.3,-1.1M392.5,354.9l1.3,-1.1M396.7,350.9l1.3,-1.1M396.3,86.3l1.3,-1.1M313.0,390.0l1.3,-1.1M389.8,91.5l1.3,-1.1M238.2,292.2l1.3,-1.1M143.4,236.2l1.3,-1.1M371.1,439.1l1.3,-1.1M308.8,416.7l1.3,-1.1M114.9,243.5l1.3,-1.1M93.5,143.9l1.3,-1.1M260.3,327.7l1.3,-1.1M161.6,313.6l1.3,-1.1M387.0,355.6l1.3,-1.1M272.3,338.0l1.3,-1.1M183.6,304.7l1.3,-1.1M317.5,92.8l1.3,-1.1M74.6,203.8l1.3,-1.1M361.2,233.8l1.3,-1.1M380.4,184.8l1.3,-1.1M173.9,403.4l1.3,-1.1M201.5,264.2l1.3,-1.1M355.8,200.7l1.3,-1.1M62.8,293.1l1.3,-1.1M190.5,244.4l1.3,-1.1M169.4,319.2l1.3,-1.1M243.2,379.0l1.3,-1.1M195.7,166.1l1.3,-1.1M257.9,360.9l1.3,-1.1M407.6,173.4l1.3,-1.1M86.4,218.3l1.3,-1.1M336.6,299.8l1.3,-1.1M344.8,266.9l1.3,-1.1M184.5,306.7l1.3,-1.1M339.0,310.3l1.3,-1.1M69.0,198.1l1.3,-1.1M229.6,202.1l1.3,-1.1M117.9,326.7l1.3,-1.1M66.9,255.0l1.3,-1.1M72.5,189.6l1.3,-1.1M417.3,422.6l1.3,-1.1M216.9,121.1l1.3,-1.1M412.6,427.1l1.3,-1.1M197.3,95.7l1.3,-1.1M107.0,408.9l1.3,-1.1M91.6,233.8l1.3,-1.1M164.6,159.6l1.3,-1.1M94.8,76.4l1.3,-1.1M123.1,300.5l1.3,-1.1M183.0,336.9l1.3,-1.1M229.5,342.1l1.3,-1.1M132.1,160.1l1.3,-1.1M410.8,414.2l1.3,-1.1M273.1,439.2l1.3,-1.1M381.8,401.1l1.3,-1.1M256.3,119.2l1.3,-1.1M293.7,433.5l1.3,-1.1M224.1,272.0l1.3,-1.1M99.4,198.8l1.3,-1.1M113.5,412.0l1.3,-1.1M429.8,407.6l1.3,-1.1M319.3,276.8l1.3,-1.1M198.8,184.8l1.3,-1.1M340.5,88.9l1.3,-1.1M387.3,216.8l1.3,-1.1M172.0,361.9l1.3,-1.1M232.0,416.6l1.3,-1.1M256.9,404.5l1.3,-1.1M252.7,433.4l1.3,-1.1M156.4,177.0l1.3,-1.1M428.9,388.2l1.3,-1.1M120.1,349.5l1.3,-1.1M216.0,121.1l1.3,-1.1M334.2,443.8l1.3,-1.1M373.9,354.1l1.3,-1.1M211.6,101.7l1.3,-1.1M130.5,363.7l1.3,-1.1M270.4,405.1l1.3,-1.1M421.3,416.7l1.3,-1.1M316.8,151.4l1.3,-1.1M341.8,244.3l1.3,-1.1M348.1,251.5l1.3,-1.1M257.8,305.3l1.3,-1.1M158.8,404.2l1.3,-1.1M398.0,288.9l1.3,-1.1M269.2,298.4l1.3,-1.1M335.5,209.6l1.3,-1.1M113.2,115.0l1.3,-1.1M312.0,238.1l1.3,-1.1M292.8,368.3l1.3,-1.1M303.7,159.6l1.3,-1.1M382.8,410.5l1.3,-1.1M136.3,163.5l1.3,-1.1M148.9,255.7l1.3,-1.1M419.8,302.4l1.3,-1.1M168.7,377.1l1.3,-1.1M350.5,224.1l1.3,-1.1M196.4,298.6l1.3,-1.1M362.5,326.4l1.3,-1.1M94.4,96.7l1.3,-1.1M351.4,187.4l1.3,-1.1M99.0,165.2l1.3,-1.1M355.3,445.1l1.3,-1.1M401.2,108.7l1.3,-1.1M306.2,206.9l1.3,-1.1M237.1,258.7l1.3,-1.1M202.9,182.3l1.3,-1.1M295.0,210.7l1.3,-1.1M184.8,151.5l1.3,-1.1M417.7,235.7l1.3,-1.1M215.3,236.9l1.3,-1.1M291.0,139.8l1.3,-1.1M97.1,379.9l1.3,-1.1M367.2,145.6l1.3,-1.1M332.5,169.7l1.3,-1.1M191.5,437.2l1.3,-1.1M334.9,412.2l1.3,-1.1M147.6,271.5l1.3,-1.1M132.0,402.1l1.3,-1.1M78.7,386.1l1.3,-1.1M326.9,418.1l1.3,-1.1M364.7,141.5l1.3,-1.1M278.8,352.6l1.3,-1.1M422.4,315.2l1.3,-1.1M179.5,369.2l1.3,-1.1M67.5,280.7l1.3,-1.1M291.2,178.0l1.3,-1.1M204.7,401.3l1.3,-1.1M426.3,127.8l1.3,-1.1M409.7,230.1l1.3,-1.1M244.6,343.9l1.3,-1.1M270.6,295.4l1.3,-1.1M243.4,179.1l1.3,-1.1M188.2,421.6l1.3,-1.1M292.1,384.7l1.3,-1.1M197.1,423.4l1.3,-1.1M265.7,178.1l1.3,-1.1M321.8,169.3l1.3,-1.1M268.3,263.5l1.3,-1.1M81.0,369.2l1.3,-1.1M140.1,96.2l1.3,-1.1M166.1,280.2l1.3,-1.1M257.1,306.8l1.3,-1.1M113.8,442.4l1.3,-1.1M303.6,309.6l1.3,-1.1M104.6,89.2l1.3,-1.1M425.9,149.6l1.3,-1.1M156.4,178.8l1.3,-1.1M155.1,338.7l1.3,-1.1M330.1,437.7l1.3,-1.1M92.9,368.6l1.3,-1.1M220.5,190.1l1.3,-1.1M405.0,220.6l1.3,-1.1M115.5,173.6l1.3,-1.1M396.2,395.2l1.3,-1.1M302.3,428.6l1.3,-1.1M154.7,320.4l1.3,-1.1M412.9,167.0l1.3,-1.1M115.6,437.2l1.3,-1.1M423.5,162.3l1.3,-1.1M223.9,302.5l1.3,-1.1M317.4,343.9l1.3,-1.1M235.6,100.0l1.3,-1.1M425.4,310.6l1.3,-1.1M372.6,171.0l1.3,-1.1M251.8,407.2l1.3,-1.1M98.1,136.2l1.3,-1.1M148.6,80.2l1.3,-1.1M94.2,323.8l1.3,-1.1M421.7,345.2l1.3,-1.1M377.0,80.4l1.3,-1.1M342.0,365.2l1.3,-1.1M100.0,234.9l1.3,-1.1M174.5,351.4l1.3,-1.1M116.9,176.0l1.3,-1.1M249.9,441.8l1.3,-1.1M206.1,148.1l1.3,-1.1M365.0,193.6l1.3,-1.1M258.2,278.1l1.3,-1.1M275.2,293.1l1.3,-1.1M144.4,118.8l1.3,-1.1M185.6,437.5l1.3,-1.1M318.9,190.7l1.3,-1.1M136.0,80.7l1.3,-1.1M105.3,320.5l1.3,-1.1M264.4,429.2l1.3,-1.1M230.8,400.9l1.3,-1.1M280.9,91.1l1.3,-1.1M86.5,155.7l1.3,-1.1M392.7,262.6l1.3,-1.1M95.0,167.8l1.3,-1.1M116.4,286.4l1.3,-1.1M378.2,187.6l1.3,-1.1M336.5,191.2l1.3,-1.1M324.8,446.7l1.3,-1.1M187.4,101.9l1.3,-1.1M122.1,106.5l1.3,-1.1M290.1,427.1l1.3,-1.1M142.6,89.1l1.3,-1.1M191.9,219.4l1.3,-1.1M104.9,295.4l1.3,-1.1M68.4,432.1l1.3,-1.1M392.7,185.4l1.3,-1.1M88.9,199.0l1.3,-1.1M259.6,127.2l1.3,-1.1M67.6,148.5l1.3,-1.1M231.6,297.7l1.3,-1.1M218.1,159.6l1.3,-1.1M424.6,328.0l1.3,-1.1M405.0,444.7l1.3,-1.1M216.5,385.1l1.3,-1.1M150.3,104.0l1.3,-1.1M100.7,286.3l1.3,-1.1M242.7,136.7l1.3,-1.1M220.0,290.7l1.3,-1.1M117.3,137.7l1.3,-1.1M296.2,92.9l1.3,-1.1M354.7,171.7l1.3,-1.1M137.3,80.0l1.3,-1.1M147.5,77.2l1.3,-1.1M163.6,214.5l1.3,-1.1M405.5,206.7l1.3,-1.1M74.6,445.0l1.3,-1.1M244.7,285.2l1.3,-1.1M211.7,299.1l1.3,-1.1M321.6,309.8l1.3,-1.1M394.9,252.9l1.3,-1.1M97.9,174.4l1.3,-1.1M404.6,227.4l1.3,-1.1M108.5,408.4l1.3,-1.1M276.1,223.5l1.3,-1.1M86.8,202.5l1.3,-1.1M272.7,387.6l1.3,-1.1M396.5,393.1l1.3,-1.1M236.7,284.6l1.3,-1.1M83.4,196.6l1.3,-1.1M199.0,350.3l1.3,-1.1M226.1,250.1l1.3,-1.1M247.0,160.1l1.3,-1.1M336.1,198.2l1.3,-1.1M407.0,155.3l1.3,-1.1M235.3,164.7l1.3,-1.1M228.4,159.2l1.3,-1.1M165.4,145.8l1.3,-1.1M267.1,208.4l1.3,-1.1M77.8,445.6l1.3,-1.1M159.8,149.8l1.3,-1.1M147.4,154.3l1.3,-1.1M317.4,345.2l1.3,-1.1M117.4,266.7l1.3,-1.1M77.4,261.4l1.3,-1.1M235.5,229.6l1.3,-1.1M406.9,119.6l1.3,-1.1M95.4,258.8l1.3,-1.1M368.5,177.7l1.3,-1.1M196.8,282.8l1.3,-1.1M162.7,435.8l1.3,-1.1M237.6,444.4l1.3,-1.1M93.2,316.2l1.3,-1.1M388.7,403.3l1.3,-1.1M196.2,263.1l1.3,-1.1M364.0,153.1l1.3,-1.1M204.6,173.7l1.3,-1.1M248.4,111.5l1.3,-1.1M172.5,372.7l1.3,-1.1M220.0,327.4l1.3,-1.1M323.8,399.9l1.3,-1.1M190.9,193.9l1.3,-1.1M123.3,250.7l1.3,-1.1M221.3,173.5l1.3,-1.1M229.8,175.3l1.3,-1.1M321.7,118.9l1.3,-1.1M416.7,168.4l1.3,-1.1M191.2,286.4l1.3,-1.1M359.5,151.2l1.3,-1.1M243.9,302.7l1.3,-1.1M88.2,265.2l1.3,-1.1M233.9,309.6l1.3,-1.1M389.3,332.4l1.3,-1.1M422.5,362.6l1.3,-1.1M206.3,223.8l1.3,-1.1M231.4,158.8l1.3,-1.1M128.8,325.0l1.3,-1.1M209.0,326.8l1.3,-1.1M72.5,291.2l1.3,-1.1M199.4,164.8l1.3,-1.1M159.2,241.9l1.3,-1.1M131.9,228.9l1.3,-1.1M399.5,81.5l1.3,-1.1M101.9,401.5l1.3,-1.1M156.5,306.4l1.3,-1.1M427.0,411.4l1.3,-1.1M196.2,203.2l1.3,-1.1" stroke="#fff" stroke-opacity="0.09" stroke-width="0.9" fill="none"/>
<g fill="none" stroke="#fff" stroke-width="1.3" stroke-linejoin="round" stroke-linecap="round">
<path d="M99.0,73.9 L97.6,77.8 L92.5,82.4 L91.0,84.7 L92.1,89.8 L91.3,96.2 L94.4,98.0 L96.7,103.1 L98.5,106.8 L101.7,110.9 L108.2,112.1 L110.5,108.6 L114.1,109.5 L116.9,107.5 L120.6,106.8 L122.9,102.2 L122.9,99.4 L127.9,97.1 L129.8,91.1 L134.4,89.5 L132.1,86.1 L133.4,82.0 L131.6,77.4 L132.3,73.9"/>
<path d="M58.9,179.0 L68.8,179.6 L71.3,177.9 L72.9,173.5 L75.0,173.1 L82.6,176.6 L88.1,181.4 L97.8,178.6 L107.4,174.5 L115.7,169.7 L126.7,162.1 L127.8,162.1 L127.8,154.8 L130.2,154.2 L130.2,149.7 L132.9,147.6 L130.9,144.8 L127.4,145.5 L124.7,141.8 L127.0,140.4 L128.8,136.6 L130.6,134.5 L153.2,133.2 L153.8,145.9 L161.9,145.9 L164.0,137.9 L161.9,136.8 L163.3,134.5 L166.0,133.8 L168.4,131.7 L170.2,134.5 L172.9,136.3 L178.1,136.1 L185.7,139.4 L191.2,137.5 L197.4,137.8 L202.9,139.4 L205.7,143.0 L209.1,143.6 L213.3,141.2 L218.1,142.2 L222.2,139.8 L224.3,136.4 L227.8,138.0 L231.2,137.8 L235.3,132.9 L238.1,136.1 L244.3,130.6 L238.6,131.6 L243.6,128.1 L247.8,126.0 L250.5,127.0 L255.3,123.3 L254.0,126.0 L256.7,128.1 L260.2,126.0 L261.6,122.6 L263.2,121.9 L263.2,116.4 L271.2,116.8 L271.5,121.2 L278.8,122.4 L282.2,132.1 L282.7,137.6 L278.1,138.7 L276.7,136.2 L274.7,137.9 L278.5,145.9 L285.7,143.8 L284.3,140.3 L286.4,140.6 L289.8,145.6 L294.2,143.1 L291.9,137.9 L293.3,136.9 L296.0,141.7 L305.7,136.5 L302.5,129.3 L294.0,132.8 L287.1,129.3 L294.0,125.9 L287.1,110.0 L298.8,104.5 L308.4,123.8 L313.3,123.1 L314.0,126.3 L307.5,128.6 L309.1,132.8 L318.8,127.9 L312.6,116.9 L315.3,115.2 L319.5,121.0 L324.6,116.6 L322.2,113.9 L320.2,115.5 L321.8,111.4 L311.6,103.1 L317.4,96.2 L332.3,108.3 L337.8,101.4 L336.0,99.2 L332.6,102.4 L320.2,90.7 L322.9,82.4 L329.8,79.4 L351.6,85.4 L352.6,75.5 L349.1,74.8 L347.8,80.3 L346.4,76.9 L341.6,74.8"/>
<path d="M86.2,85.8 L87.8,84.6" stroke-width="2.1"/>
<path d="M247.8,112.7 L249.8,117.1" stroke-width="1.6"/>
</g>
</g>
<g clip-path="url(#clipR)">
<g shape-rendering="crispEdges">
<g clip-path="url(#hpR)"><path d="M665.7,264.8 L656.8,278.0 L656.5,277.8 L665.6,264.8ZM665.7,264.9 L657.2,278.1 L656.8,277.9 L665.7,264.8ZM665.8,264.9 L657.8,277.8 L657.4,277.6 L665.7,264.9ZM665.8,264.9 L655.1,282.4 L654.7,282.2 L665.7,264.9ZM665.9,264.9 L655.0,283.5 L654.5,283.2 L665.8,264.9ZM665.9,265.0 L655.7,283.1 L655.3,282.8 L665.9,264.9ZM666.0,265.0 L655.3,284.9 L654.8,284.6 L665.9,265.0ZM666.0,265.0 L657.1,281.7 L656.6,281.5 L665.9,265.0ZM666.1,265.1 L657.7,281.2 L657.3,281.0 L666.0,265.0ZM666.1,265.1 L657.8,282.0 L657.4,281.8 L666.1,265.0ZM666.2,265.1 L657.0,283.9 L656.6,283.6 L666.1,265.1ZM666.2,265.1 L657.4,284.0 L657.0,283.8 L666.1,265.1ZM666.2,265.1 L658.1,283.0 L657.7,282.7 L666.2,265.1ZM666.3,265.2 L658.0,284.3 L657.5,284.1 L666.2,265.1ZM666.4,265.2 L658.9,283.4 L658.4,283.2 L666.3,265.2ZM666.4,265.2 L655.1,294.0 L654.5,293.7 L666.4,265.2ZM666.5,265.2 L647.7,315.7 L646.6,315.2 L666.4,265.2ZM666.5,265.3 L648.1,315.9 L647.0,315.5 L666.5,265.2ZM666.6,265.3 L649.2,315.8 L648.1,315.4 L666.5,265.3ZM666.7,265.3 L650.0,316.5 L648.9,316.2 L666.6,265.3ZM666.7,265.3 L650.0,320.3 L648.7,319.9 L666.7,265.3ZM666.7,265.3 L646.6,332.5 L645.1,332.0 L666.7,265.3ZM666.8,265.4 L647.3,334.6 L645.8,334.2 L666.7,265.3ZM666.9,265.4 L646.7,340.1 L645.0,339.6 L666.8,265.3ZM666.9,265.4 L647.5,342.5 L645.9,342.0 L666.8,265.4ZM667.0,265.4 L650.4,335.8 L648.9,335.5 L666.9,265.4ZM667.1,265.4 L651.1,338.9 L649.5,338.5 L667.0,265.4ZM667.1,265.4 L651.9,342.2 L650.2,341.8 L667.0,265.4ZM667.1,265.4 L651.7,343.0 L650.0,342.7 L667.0,265.4ZM667.2,265.4 L653.1,343.3 L651.4,343.0 L667.1,265.4ZM667.3,265.4 L654.3,345.1 L652.5,344.7 L667.2,265.4ZM667.3,265.5 L655.5,346.6 L653.8,346.3 L667.2,265.4ZM667.4,265.5 L657.5,343.1 L655.8,342.8 L667.3,265.5ZM667.4,265.5 L659.4,332.6 L657.9,332.4 L667.3,265.5ZM667.5,265.5 L660.3,335.6 L658.8,335.5 L667.4,265.5ZM667.6,265.5 L661.8,333.0 L660.3,332.9 L667.5,265.5ZM667.6,265.5 L662.4,340.2 L660.8,340.0 L667.5,265.5ZM667.7,265.5 L663.9,339.1 L662.3,339.0 L667.6,265.5ZM667.8,265.5 L665.1,342.9 L663.4,342.8 L667.7,265.5ZM667.8,265.5 L665.8,324.3 L664.5,324.3 L667.7,265.5ZM667.8,265.5 L667.0,320.8 L665.8,320.8 L667.8,265.5ZM667.9,265.5 L667.9,333.9 L666.4,333.8 L667.8,265.5ZM668.0,265.5 L669.2,332.7 L667.7,332.7 L667.9,265.5ZM668.0,265.5 L670.6,337.6 L669.0,337.6 L668.0,265.5ZM668.1,265.5 L672.1,349.0 L670.2,349.1 L668.0,265.5ZM668.2,265.5 L673.6,349.5 L671.8,349.6 L668.1,265.5ZM668.2,265.5 L674.0,342.1 L672.3,342.2 L668.1,265.5ZM668.3,265.5 L674.7,334.4 L673.1,334.5 L668.2,265.5ZM668.3,265.5 L675.8,337.1 L674.2,337.2 L668.2,265.5ZM668.4,265.5 L677.7,341.3 L676.0,341.5 L668.3,265.5ZM668.5,265.5 L678.2,334.6 L676.6,334.8 L668.4,265.5ZM668.5,265.5 L678.9,332.9 L677.4,333.1 L668.4,265.5ZM668.6,265.4 L679.6,329.4 L678.1,329.6 L668.5,265.5ZM668.6,265.4 L680.9,330.1 L679.5,330.3 L668.6,265.4ZM668.7,265.4 L682.3,330.6 L680.8,330.9 L668.6,265.4ZM668.7,265.4 L683.5,336.5 L682.0,336.8 L668.6,265.4ZM668.8,265.4 L684.5,334.4 L682.9,334.8 L668.7,265.4ZM668.9,265.4 L686.5,337.5 L684.9,337.8 L668.8,265.4ZM668.9,265.4 L687.9,337.2 L686.3,337.6 L668.8,265.4ZM668.9,265.4 L684.8,324.8 L683.5,325.1 L668.9,265.4ZM669.0,265.3 L686.2,325.5 L684.9,325.9 L668.9,265.4ZM669.1,265.3 L688.1,327.8 L686.8,328.2 L669.0,265.3ZM669.1,265.3 L690.9,332.9 L689.3,333.4 L669.0,265.3ZM669.2,265.3 L692.6,333.8 L691.0,334.3 L669.1,265.3ZM669.2,265.3 L695.5,339.8 L693.9,340.3 L669.2,265.3ZM669.3,265.2 L697.0,339.7 L695.4,340.3 L669.2,265.3ZM669.4,265.2 L698.8,340.1 L697.1,340.8 L669.3,265.3ZM669.4,265.2 L697.1,334.4 L695.5,335.0 L669.3,265.2ZM669.5,265.2 L694.8,325.5 L693.5,326.0 L669.4,265.2ZM669.5,265.2 L693.3,319.1 L692.1,319.6 L669.4,265.2ZM669.6,265.1 L692.5,314.7 L691.4,315.2 L669.5,265.2ZM669.6,265.1 L691.7,312.5 L690.6,313.0 L669.5,265.2ZM669.7,265.1 L693.0,313.1 L691.9,313.6 L669.6,265.1ZM669.7,265.1 L692.5,310.0 L691.5,310.5 L669.6,265.1ZM669.8,265.0 L697.1,317.0 L696.0,317.6 L669.7,265.1ZM669.8,265.0 L697.9,316.2 L696.8,316.8 L669.8,265.0ZM669.9,265.0 L698.6,315.1 L697.5,315.7 L669.8,265.0ZM669.9,264.9 L696.0,308.6 L695.0,309.2 L669.9,265.0ZM670.0,264.9 L694.1,305.0 L693.2,305.5 L669.9,265.0ZM670.0,264.9 L694.6,304.1 L693.7,304.6 L670.0,264.9ZM670.1,264.9 L693.9,301.4 L693.1,302.0 L670.0,264.9ZM670.1,264.8 L702.7,313.9 L701.6,314.7 L670.0,264.9ZM670.2,264.8 L700.2,308.4 L699.2,309.1 L670.1,264.8ZM670.2,264.8 L703.6,311.4 L702.5,312.2 L670.2,264.8ZM670.3,264.7 L702.5,308.1 L701.5,308.8 L670.2,264.8ZM670.3,264.7 L698.4,302.4 L697.5,303.0 L670.2,264.8ZM670.3,264.7 L699.6,302.5 L698.8,303.2 L670.3,264.7ZM670.4,264.6 L702.1,304.6 L701.2,305.3 L670.3,264.7ZM670.4,264.6 L702.2,303.1 L701.3,303.9 L670.4,264.6ZM670.5,264.5 L702.5,302.1 L701.6,302.8 L670.4,264.6ZM670.5,264.5 L706.1,306.1 L705.1,306.9 L670.4,264.6ZM670.6,264.5 L707.2,305.8 L706.3,306.6 L670.5,264.5ZM670.6,264.4 L706.8,303.8 L705.9,304.6 L670.5,264.5ZM670.7,264.4 L710.5,306.3 L709.6,307.2 L670.6,264.5ZM670.7,264.4 L707.8,303.2 L706.9,304.1 L670.6,264.4ZM670.7,264.3 L707.5,301.5 L706.7,302.4 L670.7,264.4ZM670.8,264.3 L709.5,302.3 L708.6,303.2 L670.7,264.4ZM670.8,264.3 L707.1,298.6 L706.3,299.4 L670.7,264.3ZM670.9,264.2 L707.3,297.5 L706.5,298.3 L670.8,264.3ZM670.9,264.2 L709.9,298.9 L709.1,299.8 L670.8,264.2ZM670.9,264.1 L710.2,297.8 L709.4,298.7 L670.9,264.2ZM671.0,264.1 L712.4,298.9 L711.6,299.9 L670.9,264.1ZM671.0,264.0 L712.2,297.4 L711.4,298.3 L671.0,264.1ZM671.0,264.0 L715.5,298.8 L714.7,299.8 L671.0,264.0ZM671.1,264.0 L709.0,293.7 L708.4,294.5 L671.0,264.0ZM671.1,263.9 L712.8,295.4 L712.1,296.3 L671.0,264.0ZM671.1,263.9 L709.5,291.8 L708.9,292.6 L671.1,263.9ZM671.2,263.8 L711.5,292.0 L710.8,293.0 L671.1,263.9ZM671.2,263.8 L702.7,285.9 L702.2,286.6 L671.1,263.9ZM671.2,263.7 L702.7,284.9 L702.2,285.7 L671.2,263.8ZM671.3,263.7 L707.0,286.9 L706.5,287.7 L671.2,263.7ZM671.3,263.7 L711.6,289.8 L711.0,290.7 L671.2,263.7ZM671.3,263.6 L711.2,288.4 L710.6,289.3 L671.3,263.7ZM671.3,263.6 L704.9,284.0 L704.4,284.8 L671.3,263.7ZM671.4,263.5 L703.9,282.6 L703.5,283.3 L671.3,263.6ZM671.4,263.5 L720.5,291.3 L719.8,292.4 L671.3,263.5ZM671.4,263.4 L715.1,287.2 L714.6,288.2 L671.4,263.5ZM671.4,263.4 L723.4,291.0 L722.8,292.2 L671.4,263.5ZM671.5,263.3 L720.1,288.1 L719.6,289.2 L671.4,263.4ZM671.5,263.3 L723.0,288.4 L722.5,289.5 L671.5,263.3ZM671.5,263.2 L717.7,285.5 L717.2,286.5 L671.5,263.3ZM671.5,263.2 L716.9,284.0 L716.4,285.1 L671.5,263.2ZM671.6,263.1 L717.2,283.4 L716.8,284.4 L671.5,263.2ZM671.6,263.1 L719.9,283.5 L719.4,284.6 L671.6,263.1ZM671.6,263.0 L718.8,282.0 L718.4,283.0 L671.6,263.1ZM671.6,263.0 L720.5,282.0 L720.1,283.1 L671.6,263.0ZM671.7,262.9 L720.1,280.8 L719.7,281.9 L671.6,263.0ZM671.7,262.8 L718.4,279.2 L718.0,280.2 L671.6,262.9ZM671.7,262.8 L718.6,278.3 L718.2,279.3 L671.7,262.8ZM671.7,262.7 L720.3,277.8 L719.9,278.9 L671.7,262.8ZM671.7,262.7 L708.5,273.8 L708.2,274.7 L671.7,262.7ZM671.7,262.6 L707.7,272.8 L707.5,273.6 L671.7,262.7ZM671.8,262.5 L709.0,272.4 L708.8,273.3 L671.7,262.6ZM671.8,262.5 L715.6,273.5 L715.3,274.5 L671.8,262.6ZM671.8,262.4 L714.4,272.3 L714.2,273.3 L671.8,262.5ZM671.8,262.4 L715.1,272.0 L714.8,273.0 L671.8,262.5ZM671.8,262.3 L718.8,271.9 L718.6,273.0 L671.8,262.4ZM671.8,262.3 L706.2,268.9 L706.0,269.7 L671.8,262.3ZM671.8,262.2 L707.0,268.3 L706.9,269.1 L671.8,262.3ZM671.9,262.1 L704.6,267.2 L704.4,268.0 L671.8,262.2ZM671.9,262.1 L716.3,268.9 L716.1,269.9 L671.8,262.2ZM671.9,262.0 L714.3,267.7 L714.2,268.7 L671.9,262.1ZM671.9,262.0 L717.0,267.2 L716.9,268.3 L671.9,262.0ZM671.9,261.9 L714.9,266.5 L714.7,267.5 L671.9,262.0ZM671.9,261.9 L713.9,265.6 L713.8,266.6 L671.9,261.9ZM671.9,261.8 L705.7,264.3 L705.7,265.1 L671.9,261.9ZM671.9,261.7 L704.8,263.6 L704.7,264.4 L671.9,261.8ZM671.9,261.7 L705.6,263.0 L705.5,263.8 L671.9,261.7ZM671.9,261.6 L706.7,262.3 L706.6,263.1 L671.9,261.7ZM671.9,261.6 L719.1,262.3 L719.1,263.4 L671.9,261.6ZM671.9,261.5 L724.9,261.4 L724.9,262.6 L671.9,261.6ZM671.9,261.4 L719.5,260.5 L719.5,261.6 L671.9,261.5ZM671.9,261.4 L721.2,259.5 L721.2,260.7 L671.9,261.4ZM671.9,261.3 L716.2,259.6 L716.2,260.7 L671.9,261.4ZM671.9,261.3 L714.5,258.9 L714.5,259.9 L671.9,261.4ZM671.9,261.2 L718.9,257.8 L719.0,258.8 L671.9,261.3ZM671.9,261.2 L708.8,258.3 L708.9,259.1 L671.9,261.3ZM671.9,261.1 L713.0,257.2 L713.1,258.1 L671.9,261.2ZM671.9,261.0 L713.0,256.4 L713.1,257.3 L671.9,261.1ZM671.9,261.0 L725.7,254.5 L725.9,255.7 L671.9,261.1ZM671.9,260.9 L721.5,254.1 L721.6,255.2 L671.9,261.0ZM671.9,260.9 L723.9,252.7 L724.0,253.9 L671.9,261.0ZM671.8,260.8 L721.9,252.1 L722.1,253.2 L671.9,260.9ZM671.8,260.8 L722.1,251.9 L722.3,253.0 L671.9,260.9ZM671.8,260.7 L723.2,250.7 L723.4,251.8 L671.8,260.8ZM671.8,260.7 L719.2,250.5 L719.5,251.6 L671.8,260.7ZM671.8,260.6 L710.3,252.1 L710.5,253.0 L671.8,260.7ZM671.8,260.6 L705.3,252.6 L705.5,253.3 L671.8,260.7ZM671.8,260.5 L694.3,254.7 L694.4,255.3 L671.8,260.6ZM671.8,260.5 L692.9,254.7 L693.1,255.2 L671.8,260.5ZM671.7,260.4 L692.2,254.5 L692.4,255.0 L671.8,260.5ZM671.7,260.3 L688.3,255.2 L688.4,255.6 L671.7,260.4ZM671.7,260.3 L687.7,255.0 L687.9,255.4 L671.7,260.3ZM671.7,260.2 L689.1,254.5 L689.3,254.9 L671.7,260.3ZM671.7,260.2 L685.6,255.3 L685.7,255.7 L671.7,260.3ZM671.7,260.1 L683.7,255.7 L683.8,256.0 L671.7,260.2ZM671.6,260.1 L679.3,257.2 L679.4,257.4 L671.7,260.2ZM671.6,260.0 L679.9,256.7 L680.0,257.0 L671.6,260.1ZM671.6,260.0 L678.8,256.9 L678.9,257.2 L671.6,260.0ZM671.6,259.9 L679.6,256.4 L679.7,256.7 L671.6,260.0ZM671.5,259.8 L679.3,256.3 L679.4,256.6 L671.6,259.9ZM671.5,259.8 L678.6,256.4 L678.7,256.7 L671.5,259.9ZM671.5,259.7 L679.2,256.0 L679.3,256.2 L671.5,259.8ZM671.5,259.7 L679.7,255.5 L679.9,255.7 L671.5,259.8ZM671.4,259.6 L678.9,255.6 L679.1,255.9 L671.5,259.7ZM671.4,259.6 L680.4,254.8 L680.5,255.1 L671.5,259.7Z" fill="#ff1e00"/>
<path d="M666.3,273.4 L660.0,318.5 L658.8,318.3 L666.0,273.3ZM667.0,273.5 L664.3,311.0 L663.3,310.9 L666.8,273.4ZM667.2,273.5 L665.1,311.8 L664.1,311.7 L667.0,273.5ZM667.4,273.5 L665.8,316.0 L664.7,315.9 L667.2,273.5ZM667.5,273.5 L666.6,296.8 L665.8,296.8 L667.2,273.5ZM667.7,273.5 L667.2,294.8 L666.5,294.8 L667.4,273.5ZM667.9,273.5 L667.8,297.5 L667.1,297.5 L667.6,273.5ZM669.5,273.4 L674.9,315.3 L673.8,315.5 L669.2,273.4ZM669.7,273.4 L676.0,316.0 L674.9,316.2 L669.4,273.4ZM670.1,273.3 L678.0,316.5 L676.9,316.7 L669.8,273.3ZM670.1,273.3 L674.1,294.5 L673.4,294.6 L669.9,273.3ZM671.1,273.1 L682.6,315.0 L681.4,315.3 L670.8,273.1ZM671.3,273.0 L685.0,319.9 L683.8,320.3 L671.0,273.1ZM671.9,272.8 L687.4,317.2 L686.3,317.6 L671.6,272.9ZM671.9,272.8 L686.3,313.1 L685.3,313.5 L671.7,272.9ZM672.1,272.7 L686.9,312.0 L685.9,312.4 L671.9,272.8ZM672.5,272.6 L688.1,309.9 L687.1,310.3 L672.3,272.7ZM673.2,272.3 L687.0,300.8 L686.2,301.2 L672.9,272.4ZM673.3,272.2 L687.7,300.4 L686.9,300.8 L673.1,272.3ZM673.6,272.1 L682.5,288.4 L681.9,288.7 L673.4,272.2ZM674.2,271.7 L684.4,288.5 L683.8,288.8 L673.9,271.9ZM674.9,271.3 L687.5,288.9 L686.9,289.3 L674.7,271.4ZM675.1,271.1 L687.0,287.2 L686.5,287.6 L674.9,271.3ZM675.2,271.0 L686.9,286.2 L686.4,286.6 L675.0,271.2ZM675.4,270.9 L689.0,287.9 L688.4,288.4 L675.2,271.0ZM675.6,270.7 L695.2,294.4 L694.5,294.9 L675.4,270.9ZM675.9,270.5 L693.9,290.7 L693.3,291.2 L675.7,270.6ZM676.0,270.3 L695.3,291.2 L694.7,291.8 L675.8,270.5ZM676.6,269.8 L694.5,287.1 L694.0,287.7 L676.4,270.0ZM676.8,269.5 L695.3,286.0 L694.8,286.6 L676.7,269.7ZM677.0,269.4 L695.0,285.0 L694.5,285.5 L676.8,269.5ZM677.4,268.9 L692.0,280.3 L691.6,280.8 L677.2,269.1ZM677.8,268.3 L696.9,281.3 L696.5,281.9 L677.7,268.5ZM677.9,268.1 L697.8,281.2 L697.4,281.8 L677.8,268.3ZM678.0,267.9 L696.0,279.2 L695.6,279.8 L677.9,268.1ZM678.4,267.4 L699.9,279.5 L699.5,280.2 L678.2,267.6ZM678.6,266.9 L702.3,278.8 L702.0,279.5 L678.5,267.1ZM678.8,266.5 L705.3,278.7 L704.9,279.5 L678.7,266.7ZM679.0,266.1 L694.7,272.6 L694.5,273.1 L678.9,266.3ZM679.3,265.2 L692.8,269.5 L692.6,270.0 L679.2,265.4ZM679.6,264.0 L702.3,268.9 L702.2,269.6 L679.6,264.3ZM679.8,262.7 L695.6,264.3 L695.5,264.9 L679.8,263.0ZM679.9,262.3 L698.7,263.5 L698.7,264.2 L679.9,262.5ZM679.8,260.3 L696.6,258.7 L696.7,259.3 L679.9,260.6ZM679.7,259.4 L704.8,254.9 L704.8,255.2 L679.7,259.5Z" fill="#f00a00"/>
<path d="M672.0,273.5 H682.5 v1.1 H672.0zM673.3,274.5 H684.0 v1.1 H673.3zM672.2,275.5 H684.0 v1.1 H672.2zM672.4,276.5 H684.0 v1.1 H672.4zM672.1,277.5 H684.4 v1.1 H672.1zM673.6,278.5 H685.8 v1.1 H673.6zM673.2,279.5 H684.3 v1.1 H673.2zM672.7,280.5 H685.2 v1.1 H672.7zM672.1,281.5 H685.4 v1.1 H672.1zM672.4,282.5 H685.1 v1.1 H672.4zM674.5,283.5 H686.6 v1.1 H674.5zM674.5,284.5 H685.0 v1.1 H674.5zM673.6,285.5 H685.0 v1.1 H673.6zM673.8,286.5 H685.2 v1.1 H673.8zM676.2,287.5 H687.6 v1.1 H676.2zM674.7,288.5 H685.7 v1.1 H674.7zM676.8,289.5 H686.6 v1.1 H676.8zM675.7,290.5 H686.3 v1.1 H675.7zM675.8,291.5 H686.7 v1.1 H675.8zM677.2,292.5 H686.4 v1.1 H677.2zM677.9,293.5 H685.5 v1.1 H677.9zM677.9,294.5 H688.4 v1.1 H677.9zM677.2,295.5 H687.2 v1.1 H677.2zM678.8,296.5 H687.1 v1.1 H678.8zM680.1,297.5 H687.8 v1.1 H680.1zM679.4,298.5 H689.3 v1.1 H679.4zM678.7,299.5 H689.5 v1.1 H678.7zM679.5,300.5 H688.3 v1.1 H679.5zM680.9,301.5 H688.8 v1.1 H680.9zM680.3,302.5 H688.6 v1.1 H680.3zM681.6,303.5 H690.8 v1.1 H681.6zM683.4,304.5 H689.9 v1.1 H683.4zM683.9,305.5 H691.0 v1.1 H683.9zM683.0,306.5 H689.0 v1.1 H683.0zM684.0,307.5 H689.9 v1.1 H684.0zM683.0,308.5 H692.1 v1.1 H683.0zM685.8,309.5 H691.0 v1.1 H685.8zM685.4,310.5 H691.7 v1.1 H685.4zM686.5,311.5 H691.3 v1.1 H686.5zM686.2,312.5 H690.8 v1.1 H686.2zM685.8,313.5 H692.0 v1.1 H685.8zM686.2,314.5 H690.7 v1.1 H686.2zM687.0,315.5 H693.0 v1.1 H687.0zM687.2,316.5 H693.6 v1.1 H687.2zM688.6,317.5 H693.1 v1.1 H688.6zM689.5,318.5 H691.6 v1.1 H689.5zM688.3,319.5 H694.3 v1.1 H688.3zM690.4,320.5 H691.9 v1.1 H690.4zM690.6,321.5 H691.9 v1.1 H690.6zM689.5,322.5 H692.5 v1.1 H689.5zM690.4,323.5 H693.6 v1.1 H690.4zM692.4,324.5 H694.0 v1.1 H692.4z" fill="#08006a"/>
<path d="M681.5,279.3 L682.2,280.3 L680.9,281.2 L680.2,280.2ZM694.1,297.1 L696.4,300.4 L695.6,301.0 L693.3,297.7ZM679.6,269.3 L682.9,271.6 L682.3,272.4 L679.1,270.1ZM717.7,273.0 L719.3,273.4 L718.9,274.9 L717.3,274.5ZM679.4,271.2 L682.8,274.3 L682.1,275.0 L678.8,272.0ZM716.1,288.0 L717.4,288.8 L716.6,290.1 L715.3,289.4ZM715.0,268.4 L716.8,268.7 L716.6,269.7 L714.9,269.4ZM691.3,260.5 L694.4,260.5 L694.4,262.1 L691.3,262.1ZM690.9,258.8 L695.6,258.4 L695.8,260.0 L691.1,260.4ZM691.1,303.3 L691.9,304.8 L691.1,305.3 L690.3,303.8ZM686.7,294.9 L687.5,296.5 L686.6,296.9 L685.8,295.4ZM674.4,271.9 L676.0,274.6 L675.1,275.1 L673.6,272.4ZM690.5,284.7 L692.8,287.2 L691.7,288.3 L689.3,285.8ZM691.8,268.9 L696.5,270.4 L696.2,271.4 L691.5,269.8ZM720.9,262.5 L725.1,262.6 L725.0,263.6 L720.8,263.5ZM687.7,291.4 L690.2,295.3 L688.9,296.2 L686.4,292.2ZM689.7,304.9 L690.3,306.2 L689.4,306.6 L688.8,305.4ZM711.1,280.5 L715.2,282.3 L714.6,283.8 L710.5,281.9ZM680.5,272.2 L681.9,273.4 L680.8,274.6 L679.4,273.4ZM680.2,283.2 L682.1,286.8 L681.2,287.2 L679.3,283.6ZM701.7,292.5 L703.4,294.2 L702.3,295.3 L700.6,293.7ZM696.6,260.2 L698.4,260.1 L698.4,261.1 L696.6,261.2ZM685.7,265.8 L688.8,266.7 L688.6,267.6 L685.5,266.8ZM690.2,256.8 L692.4,256.5 L692.7,258.0 L690.5,258.4ZM686.5,279.3 L689.8,282.7 L689.1,283.4 L685.8,280.0ZM690.7,289.6 L692.3,291.6 L691.5,292.2 L689.9,290.2ZM693.9,312.9 L695.5,316.2 L694.1,316.9 L692.5,313.6ZM684.4,281.9 L685.1,282.9 L684.4,283.5 L683.6,282.5ZM705.2,298.3 L708.2,301.3 L707.0,302.4 L704.1,299.4ZM685.4,285.1 L686.3,286.2 L685.5,286.8 L684.6,285.7ZM691.2,288.4 L694.2,292.1 L693.5,292.7 L690.4,289.1ZM716.8,252.6 L720.2,252.0 L720.4,253.6 L717.1,254.1ZM692.3,278.1 L694.9,280.0 L694.3,280.8 L691.7,278.9ZM681.4,262.4 L682.7,262.5 L682.6,263.5 L681.3,263.4ZM693.6,268.4 L698.5,269.9 L698.1,271.4 L693.1,269.9ZM708.8,279.8 L713.1,281.8 L712.6,282.7 L708.4,280.7ZM676.9,264.6 L680.5,266.1 L680.1,267.0 L676.5,265.5ZM703.9,260.7 L705.7,260.7 L705.7,262.3 L703.9,262.3ZM715.8,270.5 L718.2,271.0 L717.8,272.5 L715.5,272.0ZM711.8,295.8 L715.9,299.1 L715.2,299.8 L711.2,296.6ZM680.6,271.4 L681.6,272.2 L681.0,273.0 L679.9,272.1ZM684.9,283.5 L685.7,284.6 L684.9,285.2 L684.1,284.1ZM702.5,284.8 L706.9,287.9 L706.0,289.2 L701.6,286.1ZM689.6,270.5 L694.0,272.5 L693.6,273.4 L689.2,271.4ZM705.4,292.9 L709.2,296.1 L708.1,297.3 L704.4,294.1ZM680.4,263.0 L683.8,263.5 L683.7,264.5 L680.2,264.0ZM703.6,282.0 L706.6,283.8 L706.1,284.7 L703.1,282.9ZM676.9,262.7 L680.5,263.5 L680.1,265.0 L676.5,264.2ZM704.9,291.3 L706.5,292.6 L705.4,293.8 L703.9,292.5ZM702.7,277.3 L706.6,279.1 L706.2,280.0 L702.3,278.2ZM700.2,275.7 L704.8,277.8 L704.1,279.2 L699.5,277.1ZM706.4,292.7 L709.1,294.8 L708.4,295.6 L705.8,293.4ZM697.7,297.1 L700.2,300.2 L699.0,301.2 L696.5,298.1ZM690.7,267.4 L692.1,267.8 L691.7,269.4 L690.2,269.0ZM704.8,274.9 L706.5,275.6 L706.0,277.1 L704.2,276.4ZM719.6,261.2 L723.2,261.2 L723.2,262.8 L719.6,262.8ZM698.0,283.5 L701.4,286.1 L700.8,286.9 L697.4,284.3ZM714.3,284.7 L716.6,285.9 L716.1,286.8 L713.9,285.6ZM694.9,287.6 L697.1,289.7 L696.4,290.5 L694.2,288.3ZM679.2,260.6 L683.5,260.4 L683.6,261.4 L679.2,261.6ZM693.9,276.8 L695.6,277.8 L695.1,278.7 L693.4,277.6ZM703.5,269.6 L707.8,270.6 L707.5,271.6 L703.2,270.6ZM687.1,289.5 L689.3,292.7 L688.5,293.3 L686.3,290.0ZM704.4,284.8 L706.1,285.9 L705.6,286.8 L703.8,285.7ZM704.7,264.5 L708.3,264.8 L708.2,265.8 L704.6,265.5ZM716.2,276.3 L720.5,277.7 L720.2,278.6 L715.9,277.3ZM694.4,274.8 L697.7,276.5 L697.2,277.4 L693.9,275.7ZM691.3,299.6 L692.5,301.8 L691.2,302.6 L689.9,300.4ZM695.9,294.7 L697.5,296.6 L696.7,297.3 L695.1,295.3ZM690.9,300.3 L692.9,303.7 L692.0,304.2 L690.0,300.8ZM692.1,299.0 L693.2,300.8 L691.8,301.7 L690.7,299.8ZM722.2,262.2 L726.9,262.3 L726.9,263.3 L722.2,263.2ZM686.2,261.2 L690.3,261.2 L690.3,262.2 L686.2,262.2ZM712.7,280.1 L715.5,281.3 L715.1,282.2 L712.3,281.0ZM705.7,259.0 L708.2,258.9 L708.2,259.9 L705.8,260.0ZM691.9,282.9 L694.0,284.8 L693.3,285.5 L691.2,283.6ZM690.4,285.0 L694.1,289.0 L693.3,289.6 L689.6,285.7ZM707.0,267.2 L711.3,267.9 L711.1,268.9 L706.8,268.2ZM679.4,264.4 L682.7,265.3 L682.4,266.3 L679.1,265.3ZM698.9,279.6 L700.3,280.5 L699.8,281.3 L698.4,280.5ZM681.3,277.3 L684.1,280.9 L682.9,281.9 L680.0,278.3ZM702.6,281.6 L706.0,283.6 L705.5,284.5 L702.0,282.4ZM709.2,277.7 L711.0,278.5 L710.4,280.0 L708.6,279.2ZM692.2,267.8 L694.6,268.5 L694.4,269.4 L691.9,268.7ZM698.2,293.3 L700.3,295.6 L699.1,296.7 L697.0,294.4ZM691.9,283.5 L693.1,284.7 L692.4,285.4 L691.2,284.3ZM703.0,255.5 L705.1,255.2 L705.2,256.2 L703.1,256.5ZM712.8,274.7 L715.8,275.7 L715.6,276.6 L712.5,275.7ZM682.4,277.2 L684.6,279.8 L683.4,280.8 L681.2,278.2ZM690.2,273.4 L694.2,275.6 L693.7,276.4 L689.7,274.2ZM703.6,260.4 L708.4,260.3 L708.4,261.3 L703.6,261.4ZM685.8,287.0 L687.0,288.8 L685.7,289.7 L684.4,287.9ZM707.1,272.9 L711.9,274.3 L711.7,275.3 L706.8,273.8ZM709.9,273.8 L711.3,274.2 L710.8,275.7 L709.4,275.3ZM686.0,274.1 L688.4,275.8 L687.8,276.6 L685.4,274.9ZM710.4,286.5 L713.4,288.4 L712.9,289.2 L709.9,287.4ZM684.6,280.8 L687.0,283.9 L685.8,284.9 L683.3,281.9ZM709.4,263.8 L711.5,263.9 L711.5,264.9 L709.3,264.8ZM708.2,284.8 L710.1,286.0 L709.6,286.8 L707.7,285.7ZM698.7,257.6 L701.2,257.3 L701.3,258.3 L698.8,258.6ZM694.2,273.8 L698.9,276.1 L698.4,277.0 L693.8,274.7ZM695.4,262.8 L697.3,262.9 L697.2,264.5 L695.3,264.4ZM685.8,258.6 L689.7,258.1 L689.8,259.1 L685.9,259.6ZM692.0,279.1 L695.6,281.8 L695.0,282.6 L691.4,279.9ZM687.3,263.8 L689.2,264.1 L689.0,265.1 L687.1,264.8ZM694.2,281.0 L695.5,282.0 L694.9,282.8 L693.6,281.8ZM684.8,257.9 L687.2,257.5 L687.4,258.5 L685.0,258.9ZM698.8,269.2 L700.8,269.7 L700.6,270.6 L698.6,270.1ZM697.4,273.2 L699.5,274.0 L699.1,275.0 L697.0,274.1ZM682.8,264.5 L685.6,265.2 L685.2,266.8 L682.4,266.1ZM697.1,306.0 L699.1,309.2 L698.2,309.7 L696.2,306.6ZM692.6,266.5 L694.2,266.8 L693.9,267.8 L692.4,267.5ZM687.8,271.0 L691.2,272.8 L690.5,274.2 L687.0,272.4ZM701.6,297.5 L704.9,301.2 L703.7,302.2 L700.5,298.6ZM711.4,268.0 L716.4,268.8 L716.1,270.4 L711.1,269.6ZM713.9,260.3 L717.7,260.2 L717.7,261.2 L713.9,261.3ZM709.8,293.7 L714.1,297.1 L713.5,297.9 L709.2,294.5ZM689.1,274.8 L692.1,276.7 L691.5,277.6 L688.5,275.6ZM688.5,267.6 L691.1,268.4 L690.8,269.4 L688.2,268.5ZM677.2,276.5 L678.1,278.0 L677.2,278.5 L676.4,277.0ZM692.1,308.0 L693.8,311.3 L692.9,311.8 L691.2,308.4ZM679.0,281.7 L679.8,283.3 L678.9,283.7 L678.1,282.2ZM705.9,262.3 L707.6,262.4 L707.5,264.0 L705.8,263.9ZM687.6,288.8 L690.6,293.1 L689.8,293.7 L686.8,289.3ZM684.3,262.3 L689.3,262.8 L689.2,263.7 L684.2,263.3ZM678.4,267.6 L680.2,268.7 L679.6,269.6 L677.8,268.4ZM677.4,272.8 L678.8,274.6 L677.5,275.6 L676.1,273.8ZM678.7,275.5 L680.7,278.5 L679.4,279.4 L677.3,276.4ZM701.3,272.4 L703.4,273.1 L702.9,274.6 L700.8,273.9ZM688.5,268.9 L692.0,270.3 L691.4,271.7 L687.9,270.3ZM715.4,270.5 L717.5,270.9 L717.2,272.5 L715.1,272.0ZM689.2,272.6 L692.8,274.5 L692.3,275.4 L688.7,273.4ZM710.4,265.5 L713.5,265.9 L713.3,267.5 L710.2,267.1ZM687.1,285.4 L688.8,287.6 L687.5,288.6 L685.8,286.3ZM704.2,284.6 L706.0,285.9 L705.2,287.2 L703.3,286.0ZM693.4,283.2 L697.2,286.6 L696.6,287.4 L692.7,284.0ZM718.1,283.9 L721.3,285.4 L720.9,286.3 L717.7,284.8ZM687.2,296.5 L688.5,299.0 L687.1,299.7 L685.8,297.3ZM677.9,259.2 L679.4,259.0 L679.7,260.6 L678.1,260.8ZM686.0,269.5 L690.4,271.6 L689.7,273.1 L685.3,270.9ZM694.1,264.1 L695.8,264.3 L695.7,265.3 L694.0,265.1ZM699.2,264.3 L702.3,264.6 L702.2,265.6 L699.1,265.3ZM699.7,304.8 L701.5,307.2 L700.2,308.2 L698.4,305.7ZM684.2,286.0 L686.6,289.8 L685.7,290.3 L683.3,286.6ZM702.6,255.6 L705.1,255.2 L705.2,256.2 L702.7,256.6ZM683.8,281.1 L685.7,283.7 L685.0,284.3 L683.0,281.8ZM686.8,260.6 L691.7,260.6 L691.7,262.2 L686.8,262.2ZM706.7,274.4 L710.3,275.6 L710.0,276.6 L706.4,275.3ZM703.3,256.6 L706.0,256.3 L706.1,257.3 L703.4,257.6ZM683.7,281.4 L685.3,283.5 L684.5,284.2 L682.9,282.0Z" fill="#08006a"/>
</g>
<path d="M667.5,257.5 L664.3,220.8 L665.1,220.7 L667.6,257.5ZM667.5,257.5 L663.9,224.2 L664.7,224.1 L667.6,257.5ZM667.4,257.5 L663.0,219.3 L663.9,219.2 L667.5,257.5ZM667.4,257.5 L662.0,217.8 L662.9,217.7 L667.5,257.5ZM667.3,257.5 L660.3,211.7 L661.4,211.5 L667.4,257.5ZM667.2,257.6 L660.1,215.5 L661.1,215.3 L667.3,257.5ZM667.2,257.6 L659.6,216.1 L660.6,216.0 L667.3,257.6ZM667.1,257.6 L658.0,212.2 L659.1,212.0 L667.2,257.6ZM667.1,257.6 L657.7,214.4 L658.7,214.2 L667.1,257.6ZM667.0,257.6 L656.6,213.6 L657.7,213.4 L667.1,257.6ZM666.9,257.6 L655.3,211.2 L656.3,210.9 L667.0,257.6ZM666.9,257.6 L654.1,210.5 L655.2,210.2 L666.9,257.6ZM666.8,257.7 L653.2,210.4 L654.3,210.1 L666.9,257.6ZM666.8,257.7 L654.1,214.2 L655.1,214.0 L666.9,257.6ZM666.7,257.7 L653.5,215.1 L654.5,214.9 L666.8,257.7ZM666.7,257.7 L651.7,210.6 L652.8,210.3 L666.8,257.7ZM666.6,257.7 L652.1,214.7 L653.1,214.4 L666.7,257.7ZM666.6,257.7 L651.5,214.4 L652.5,214.1 L666.7,257.7ZM666.5,257.7 L649.7,212.0 L650.8,211.6 L666.6,257.7ZM666.5,257.8 L650.3,216.0 L651.2,215.7 L666.5,257.7ZM666.4,257.8 L653.3,224.6 L654.1,224.3 L666.5,257.8ZM666.4,257.8 L653.7,227.4 L654.4,227.1 L666.4,257.8ZM666.3,257.8 L653.2,227.9 L653.9,227.6 L666.4,257.8ZM666.3,257.8 L648.1,216.6 L649.0,216.2 L666.4,257.8ZM666.2,257.9 L648.6,219.9 L649.5,219.5 L666.3,257.8ZM666.2,257.9 L646.3,216.9 L647.3,216.5 L666.2,257.9ZM666.1,257.9 L647.8,221.2 L648.6,220.8 L666.2,257.9ZM666.1,258.0 L645.7,218.8 L646.6,218.4 L666.1,257.9ZM666.0,258.0 L642.9,215.4 L643.8,214.9 L666.1,257.9ZM666.0,258.0 L641.3,213.5 L642.3,213.0 L666.0,258.0ZM665.9,258.0 L642.2,217.0 L643.1,216.4 L666.0,258.0ZM665.9,258.0 L644.1,220.9 L645.0,220.4 L666.0,258.0ZM665.8,258.1 L643.0,220.7 L643.9,220.2 L665.9,258.0ZM665.8,258.1 L642.6,221.6 L643.4,221.1 L665.8,258.1ZM665.7,258.1 L643.6,223.5 L644.4,223.0 L665.8,258.1ZM665.7,258.2 L640.2,219.7 L641.0,219.1 L665.8,258.1ZM665.6,258.2 L640.0,221.1 L640.9,220.5 L665.7,258.2ZM665.6,258.2 L637.1,217.9 L638.0,217.3 L665.7,258.2ZM665.5,258.3 L634.5,215.9 L635.4,215.2 L665.6,258.2ZM665.5,258.3 L634.2,215.9 L635.1,215.2 L665.6,258.2ZM665.5,258.3 L636.9,221.2 L637.8,220.5 L665.5,258.3ZM665.4,258.3 L637.9,223.1 L638.7,222.5 L665.5,258.3ZM665.4,258.4 L638.8,225.6 L639.5,225.0 L665.4,258.3ZM665.3,258.4 L641.0,229.2 L641.7,228.6 L665.4,258.4ZM665.3,258.5 L643.7,233.5 L644.3,233.0 L665.4,258.4ZM665.2,258.5 L642.5,233.1 L643.1,232.5 L665.3,258.5ZM665.2,258.5 L638.2,229.1 L638.9,228.5 L665.3,258.5ZM665.1,258.6 L640.5,232.6 L641.1,232.0 L665.2,258.5ZM665.1,258.6 L639.5,232.0 L640.2,231.4 L665.2,258.6ZM665.1,258.7 L637.4,230.8 L638.0,230.2 L665.1,258.6ZM665.0,258.7 L643.8,237.9 L644.3,237.4 L665.1,258.6ZM665.0,258.8 L644.2,239.2 L644.7,238.7 L665.1,258.7ZM664.9,258.8 L641.1,237.1 L641.7,236.5 L665.0,258.7ZM664.9,258.9 L641.4,238.1 L641.9,237.6 L665.0,258.8ZM664.9,258.9 L644.0,241.2 L644.4,240.7 L664.9,258.8ZM664.8,258.9 L641.8,239.7 L642.3,239.1 L664.9,258.9ZM664.8,259.0 L643.5,241.8 L643.9,241.3 L664.8,258.9ZM664.7,259.0 L645.1,243.7 L645.4,243.2 L664.8,259.0ZM664.7,259.1 L646.6,245.2 L647.0,244.8 L664.8,259.0ZM664.7,259.1 L647.5,246.5 L647.9,246.0 L664.7,259.1ZM664.7,259.2 L649.8,248.5 L650.1,248.1 L664.7,259.1ZM664.6,259.2 L650.1,249.2 L650.4,248.8 L664.7,259.2ZM664.6,259.3 L650.9,250.1 L651.2,249.8 L664.6,259.2ZM664.5,259.3 L652.0,251.2 L652.2,250.9 L664.6,259.3Z" fill="#ff1e00"/>
<path d="M667.4,257.5 L665.8,244.6 A17,17 0 0 1 682.6,253.0 L671.4,259.5 A4,4 0 0 0 667.4,257.5Z" fill="#ff1e00"/>
<path d="M671.3,259.4 L676.6,256.3 L676.7,256.5 L671.4,259.5ZM671.3,259.4 L677.0,255.8 L677.1,256.0 L671.3,259.4ZM671.3,259.3 L677.3,255.4 L677.4,255.6 L671.3,259.4ZM671.2,259.3 L677.5,255.0 L677.7,255.2 L671.3,259.3ZM671.2,259.2 L681.5,252.0 L681.7,252.2 L671.2,259.3ZM671.1,259.1 L681.6,251.6 L681.8,251.8 L671.2,259.2ZM671.1,259.1 L681.4,251.3 L681.6,251.6 L671.1,259.2ZM671.1,259.0 L678.8,253.0 L679.0,253.3 L671.1,259.1ZM671.0,259.0 L678.9,252.6 L679.1,252.9 L671.1,259.1ZM671.0,258.9 L679.1,252.1 L679.3,252.4 L671.0,259.0ZM670.9,258.9 L679.3,251.7 L679.5,251.9 L671.0,258.9ZM670.9,258.9 L682.1,249.2 L682.3,249.5 L671.0,258.9ZM670.9,258.8 L682.3,248.6 L682.5,248.9 L670.9,258.9ZM670.8,258.8 L680.6,249.7 L680.8,250.0 L670.9,258.8ZM670.8,258.7 L682.0,248.0 L682.2,248.2 L670.8,258.8ZM670.7,258.7 L681.5,247.9 L681.8,248.2 L670.8,258.7ZM670.7,258.7 L681.7,247.7 L682.0,248.0 L670.8,258.7ZM670.7,258.6 L680.7,248.2 L681.0,248.5 L670.7,258.7ZM670.6,258.6 L676.7,252.0 L676.9,252.2 L670.7,258.6ZM670.6,258.5 L676.3,252.2 L676.5,252.3 L670.6,258.6ZM670.5,258.5 L676.2,252.0 L676.4,252.1 L670.6,258.5ZM670.5,258.5 L676.7,251.1 L676.9,251.3 L670.6,258.5ZM670.4,258.4 L676.5,251.0 L676.7,251.2 L670.5,258.5ZM670.4,258.4 L676.6,250.5 L676.8,250.7 L670.4,258.4ZM670.3,258.3 L675.9,251.0 L676.1,251.2 L670.4,258.4ZM670.3,258.3 L680.4,244.7 L680.7,245.0 L670.4,258.3ZM670.2,258.3 L679.9,244.8 L680.3,245.0 L670.3,258.3ZM670.2,258.2 L681.0,242.6 L681.3,242.9 L670.2,258.3ZM670.1,258.2 L680.1,243.2 L680.5,243.5 L670.2,258.2ZM670.1,258.2 L675.2,250.4 L675.4,250.6 L670.2,258.2ZM670.0,258.1 L675.6,249.4 L675.8,249.5 L670.1,258.2ZM670.0,258.1 L675.1,249.7 L675.3,249.9 L670.1,258.1ZM669.9,258.0 L675.2,249.1 L675.4,249.2 L670.0,258.1ZM669.9,258.0 L679.6,241.0 L680.0,241.3 L670.0,258.1ZM669.8,258.0 L678.8,241.6 L679.2,241.8 L669.9,258.0ZM669.8,258.0 L679.1,240.1 L679.6,240.3 L669.8,258.0ZM669.7,257.9 L678.0,241.4 L678.4,241.6 L669.8,258.0ZM669.7,257.9 L674.8,247.6 L675.1,247.7 L669.8,258.0ZM669.6,257.9 L674.4,247.7 L674.7,247.8 L669.7,257.9ZM669.6,257.9 L674.2,247.6 L674.5,247.7 L669.6,257.9ZM669.5,257.8 L674.1,247.0 L674.4,247.2 L669.6,257.9ZM669.4,257.8 L674.0,246.7 L674.3,246.8 L669.5,257.8ZM669.4,257.8 L677.3,238.6 L677.8,238.8 L669.5,257.8ZM669.4,257.8 L677.0,238.2 L677.5,238.4 L669.4,257.8ZM669.3,257.8 L675.7,240.7 L676.1,240.8 L669.4,257.8ZM669.2,257.7 L675.3,240.7 L675.7,240.8 L669.3,257.8ZM669.2,257.7 L675.4,239.2 L675.8,239.4 L669.2,257.7ZM669.2,257.7 L673.7,243.8 L674.1,243.9 L669.2,257.7ZM669.1,257.7 L673.4,243.9 L673.7,244.0 L669.2,257.7ZM669.0,257.7 L673.2,243.2 L673.6,243.3 L669.1,257.7ZM669.0,257.6 L673.2,242.3 L673.6,242.4 L669.0,257.7ZM668.9,257.6 L673.4,240.4 L673.8,240.5 L669.0,257.6ZM668.8,257.6 L673.0,240.4 L673.4,240.5 L668.9,257.6ZM668.8,257.6 L672.5,240.6 L672.9,240.7 L668.8,257.6ZM668.7,257.6 L672.4,239.9 L672.8,240.0 L668.8,257.6ZM668.6,257.6 L672.2,238.8 L672.7,238.9 L668.7,257.6ZM668.6,257.6 L671.6,239.8 L672.1,239.9 L668.7,257.6ZM668.5,257.5 L671.9,235.4 L672.4,235.5 L668.6,257.6ZM668.4,257.5 L671.5,235.0 L672.0,235.0 L668.5,257.5ZM668.4,257.5 L671.0,235.4 L671.5,235.5 L668.4,257.5ZM668.3,257.5 L670.5,235.4 L671.1,235.4 L668.4,257.5ZM668.3,257.5 L670.3,234.6 L670.9,234.6 L668.3,257.5ZM668.2,257.5 L670.0,232.2 L670.6,232.2 L668.3,257.5ZM668.1,257.5 L669.4,234.7 L669.9,234.8 L668.2,257.5ZM668.1,257.5 L668.6,245.6 L669.0,245.7 L668.2,257.5ZM668.0,257.5 L668.4,243.9 L668.8,243.9 L668.1,257.5ZM667.9,257.5 L668.1,245.3 L668.4,245.3 L668.0,257.5ZM667.9,257.5 L667.8,245.2 L668.1,245.2 L668.0,257.5ZM667.9,257.5 L667.8,239.2 L668.2,239.2 L668.0,257.5ZM667.8,257.5 L667.4,238.5 L667.8,238.5 L667.9,257.5ZM667.7,257.5 L666.9,236.6 L667.4,236.6 L667.8,257.5ZM667.7,257.5 L666.6,233.7 L667.2,233.7 L667.8,257.5ZM667.6,257.5 L666.3,237.0 L666.8,237.0 L667.7,257.5ZM667.6,257.5 L665.8,236.7 L666.4,236.7 L667.7,257.5ZM667.5,257.5 L665.2,234.6 L665.8,234.5 L667.6,257.5ZM667.5,257.5 L665.3,235.1 L665.8,235.1 L667.6,257.5ZM667.4,257.5 L664.9,235.7 L665.4,235.7 L667.5,257.5ZM667.4,257.5 L664.7,235.9 L665.0,235.8 L667.4,257.5Z" fill="#ff1e00"/>
<path d="M676.3,256.8 L681.6,253.9 L681.8,254.1 L676.4,257.0ZM676.2,256.7 L685.6,251.2 L685.8,251.6 L676.3,256.9ZM676.1,256.5 L687.9,249.4 L688.1,249.9 L676.2,256.7ZM676.5,256.1 L688.0,249.0 L688.2,249.4 L676.7,256.3ZM676.9,255.7 L690.3,247.0 L690.6,247.4 L677.0,255.9ZM677.1,255.3 L691.5,245.6 L691.8,246.1 L677.3,255.5ZM677.1,255.2 L689.8,246.5 L690.1,247.0 L677.2,255.4ZM681.1,252.2 L690.3,245.6 L690.6,246.1 L681.3,252.4ZM681.1,251.8 L690.5,244.9 L690.8,245.3 L681.3,252.0ZM681.1,251.7 L689.8,245.3 L690.1,245.8 L681.3,252.0ZM678.5,253.4 L688.2,245.9 L688.6,246.3 L678.6,253.6ZM678.6,253.0 L688.1,245.5 L688.4,245.9 L678.7,253.3ZM678.8,252.5 L689.9,243.4 L690.2,243.9 L679.0,252.8ZM678.8,252.5 L688.3,244.7 L688.7,245.1 L679.0,252.7ZM678.9,252.1 L688.1,244.2 L688.4,244.7 L679.1,252.3ZM682.0,249.0 L688.2,243.5 L688.6,243.9 L682.2,249.3ZM681.8,248.9 L685.7,245.4 L686.0,245.8 L682.1,249.2ZM680.2,250.0 L685.8,244.7 L686.2,245.1 L680.4,250.3ZM681.7,248.4 L685.0,245.2 L685.3,245.5 L681.9,248.7ZM681.2,248.3 L684.1,245.5 L684.4,245.9 L681.5,248.6ZM680.5,248.7 L684.2,244.9 L684.5,245.2 L680.7,248.9ZM680.3,248.5 L685.7,242.9 L686.1,243.3 L680.6,248.8ZM676.4,252.4 L685.8,242.1 L686.2,242.5 L676.5,252.5ZM675.9,252.5 L685.4,241.9 L685.8,242.3 L676.1,252.7ZM675.9,252.4 L688.6,237.9 L689.1,238.3 L676.1,252.5ZM676.4,251.5 L686.9,239.0 L687.4,239.4 L676.6,251.7ZM676.1,251.4 L688.1,236.7 L688.6,237.1 L676.4,251.6ZM676.3,251.0 L689.1,234.9 L689.7,235.3 L676.5,251.1ZM675.6,251.4 L688.1,235.2 L688.7,235.7 L675.8,251.6ZM680.1,245.1 L687.5,235.1 L688.0,235.6 L680.4,245.4ZM679.6,245.2 L687.5,234.2 L688.0,234.6 L679.9,245.4ZM680.6,243.0 L686.5,234.5 L687.1,234.9 L681.0,243.3ZM679.9,243.7 L687.4,232.5 L688.0,232.9 L680.3,243.9ZM674.8,250.8 L686.8,232.3 L687.4,232.7 L675.1,250.9ZM675.2,249.8 L686.4,231.9 L687.0,232.3 L675.5,249.9ZM674.7,250.1 L685.9,231.6 L686.5,232.0 L675.0,250.3ZM679.4,241.5 L686.0,230.2 L686.6,230.6 L679.8,241.8ZM678.7,242.2 L686.6,228.1 L687.3,228.5 L679.1,242.4ZM679.1,240.6 L686.4,226.9 L687.2,227.3 L679.5,240.9ZM678.9,240.5 L683.4,231.8 L684.0,232.1 L679.3,240.7ZM677.8,241.8 L684.2,228.9 L684.9,229.3 L678.2,242.0ZM674.3,248.2 L682.8,230.4 L683.4,230.8 L674.6,248.3ZM674.1,248.1 L686.2,222.2 L687.0,222.5 L674.4,248.2ZM673.9,248.0 L687.0,218.4 L687.9,218.9 L674.2,248.1ZM674.0,247.5 L684.4,223.6 L685.2,224.0 L674.3,247.6ZM673.8,247.2 L682.5,226.3 L683.2,226.7 L674.1,247.3ZM677.0,239.0 L683.8,222.1 L684.6,222.4 L677.4,239.2ZM676.7,238.6 L684.6,217.9 L685.5,218.3 L677.1,238.8ZM675.4,241.1 L682.1,222.8 L682.9,223.1 L675.8,241.2ZM675.0,241.1 L680.8,224.3 L681.6,224.6 L675.4,241.2ZM673.6,244.3 L680.3,223.8 L681.1,224.0 L673.9,244.4ZM673.5,244.2 L680.3,223.3 L681.1,223.6 L673.8,244.4ZM673.1,244.3 L680.1,221.5 L680.9,221.7 L673.5,244.4ZM673.0,243.6 L679.3,221.7 L680.1,222.0 L673.4,243.8ZM673.1,242.8 L678.3,224.1 L679.1,224.4 L673.5,242.9ZM673.3,240.9 L678.3,221.4 L679.2,221.7 L673.7,241.0ZM673.1,240.8 L677.7,222.8 L678.5,223.0 L673.6,240.9ZM672.7,240.8 L677.9,218.8 L678.8,219.0 L673.2,241.0ZM672.3,241.1 L677.6,216.7 L678.5,217.0 L672.7,241.2ZM672.4,240.4 L676.8,219.1 L677.7,219.3 L672.8,240.5ZM672.2,239.3 L677.0,214.5 L677.9,214.7 L672.6,239.4ZM671.6,240.3 L675.7,216.9 L676.6,217.1 L672.0,240.4ZM671.5,240.3 L675.8,214.8 L676.8,215.0 L671.9,240.4ZM671.8,235.9 L674.8,216.0 L675.7,216.1 L672.3,236.0ZM671.4,235.5 L673.7,218.1 L674.6,218.2 L671.9,235.5ZM671.2,235.4 L672.6,224.2 L673.4,224.3 L671.7,235.5ZM670.7,235.9 L672.1,222.6 L673.0,222.7 L671.2,236.0ZM670.3,235.1 L671.1,226.7 L671.8,226.7 L670.9,235.1ZM670.2,232.7 L671.0,221.8 L671.9,221.9 L670.8,232.7ZM669.5,235.2 L670.4,220.1 L671.3,220.1 L670.1,235.3ZM669.4,235.2 L670.1,222.6 L670.9,222.6 L669.9,235.3ZM668.7,246.1 L669.9,221.8 L670.2,221.8 L668.8,246.2Z" fill="#08006a"/>
<path d="M667.3,241.5 L666.4,209.5 L668.4,209.5 L668.1,241.5ZM666.6,241.5 L664.8,211.6 L666.7,211.5 L667.4,241.5ZM666.1,241.6 L664.0,217.7 L665.3,217.6 L666.7,241.5Z" fill="#08006a"/>
<rect x="664.9" y="204.5" width="1.2" height="1.2" fill="#ff1e00"/>
<rect x="671.4" y="203.5" width="1.2" height="1.2" fill="#ff1e00"/>
<rect x="654.9" y="209.5" width="1.2" height="1.2" fill="#ff1e00"/>
<rect x="636.9" y="208.5" width="1.2" height="1.2" fill="#ff1e00"/>
<path d="M675.2,244.9 h1.2 v1.2 h-1.2zM681.1,246.6 h1.2 v1.2 h-1.2zM681.7,244.3 h1.2 v1.2 h-1.2zM682.5,246.6 h1.2 v1.2 h-1.2zM679.3,244.1 h1.2 v1.2 h-1.2zM674.9,235.6 h1.2 v1.2 h-1.2zM690.7,238.5 h1.2 v1.2 h-1.2zM674.4,236.4 h1.2 v1.2 h-1.2zM692.5,240.6 h1.2 v1.2 h-1.2zM678.3,225.4 h1.2 v1.2 h-1.2zM677.5,231.9 h1.2 v1.2 h-1.2zM681.2,242.3 h1.2 v1.2 h-1.2zM694.3,237.0 h1.2 v1.2 h-1.2zM678.1,239.4 h1.2 v1.2 h-1.2zM684.9,244.1 h1.2 v1.2 h-1.2zM674.1,239.6 h1.2 v1.2 h-1.2zM687.4,243.7 h1.2 v1.2 h-1.2zM687.0,234.2 h1.2 v1.2 h-1.2zM679.9,235.8 h1.2 v1.2 h-1.2zM671.8,225.1 h1.2 v1.2 h-1.2zM684.3,244.7 h1.2 v1.2 h-1.2zM678.0,244.7 h1.2 v1.2 h-1.2zM677.5,227.9 h1.2 v1.2 h-1.2zM690.6,231.2 h1.2 v1.2 h-1.2zM677.6,240.8 h1.2 v1.2 h-1.2zM680.2,231.1 h1.2 v1.2 h-1.2zM679.9,224.0 h1.2 v1.2 h-1.2zM672.1,234.7 h1.2 v1.2 h-1.2zM677.3,245.6 h1.2 v1.2 h-1.2zM679.2,242.8 h1.2 v1.2 h-1.2zM693.1,235.9 h1.2 v1.2 h-1.2zM683.6,247.8 h1.2 v1.2 h-1.2zM678.4,232.9 h1.2 v1.2 h-1.2zM686.2,230.7 h1.2 v1.2 h-1.2zM682.2,244.0 h1.2 v1.2 h-1.2zM677.1,243.4 h1.2 v1.2 h-1.2zM680.5,225.0 h1.2 v1.2 h-1.2zM676.6,225.1 h1.2 v1.2 h-1.2zM687.8,242.8 h1.2 v1.2 h-1.2zM673.8,225.5 h1.2 v1.2 h-1.2z" fill="#ff1e00"/>
<path d="M662.9,261.6 L619.9,262.7 L619.9,261.2 L662.9,261.5ZM662.9,261.8 L630.0,263.9 L629.9,262.4 L662.9,261.6ZM662.9,262.0 L616.2,267.1 L616.0,264.9 L662.9,261.8ZM663.0,262.3 L634.4,267.1 L634.1,265.4 L662.9,262.1ZM663.0,262.6 L622.0,271.5 L621.6,269.4 L663.0,262.3ZM663.1,262.8 L639.0,269.6 L638.6,267.9 L663.0,262.6ZM663.2,263.1 L626.2,275.7 L625.6,273.8 L663.1,262.9ZM663.2,263.3 L622.3,279.5 L621.7,277.9 L663.2,263.2ZM663.4,263.6 L640.7,274.1 L640.1,272.8 L663.3,263.4ZM663.5,263.8 L635.9,278.1 L635.4,277.1 L663.4,263.7Z" fill="#08006a"/>
<path d="M663.5,263.8 L653.8,269.0 A16,16 0 0 1 651.9,261.5 L662.9,261.5 A5,5 0 0 0 663.5,263.8Z" fill="#08006a"/>
<line x1="660.6" y1="258.1" x2="635.3" y2="246.3" stroke="#ff1e00" stroke-width="1.1" stroke-opacity="1" stroke-dasharray="1.2 1.6"/>
<line x1="656.9" y1="278.5" x2="653.9" y2="283.5" stroke="#08006a" stroke-width="1"/>
<circle cx="667.9" cy="261.5" r="4.3" fill="#fff" shape-rendering="auto"/>
<g fill="#08006a" stroke="#08006a" stroke-width="1.0" stroke-linejoin="round">
<path d="M505.6,273.9 L507.4,273.4 L507.8,281.5 L507.2,290.7 L509.3,298.3 L510.4,305.1 L508.8,304.2 L506.2,297.4 L504.0,292.3 L504.6,284.7 L505.3,278.9 Z"/>
<path d="M529.3,304.1 L531.2,305.1 L533.4,310.2 L534.9,313.2 L531.3,315.0 L530.1,310.8 Z"/>
<path d="M504.4,327.2 L509.1,327.0 L516.0,331.8 L520.4,336.6 L523.1,341.9 L520.3,340.7 L516.6,335.3 L510.9,331.4 Z"/>
<path d="M527.1,337.8 L529.7,338.9 L533.8,343.2 L537.9,349.1 L535.2,350.4 L530.8,349.1 L529.5,343.5 Z"/>
<path d="M633.2,309.4 L633.8,310.4 L631.6,314.4 L630.6,313.9 Z"/>
<path d="M633.3,313.5 L632.3,313.0 L629.6,318.0" fill="none" stroke-width="1"/>
</g>
<g fill="#f00a00" stroke="#f00a00" stroke-width="0.4" stroke-linejoin="round">
<path d="M507.3,273.0 L509.1,272.5 L509.5,280.6 L508.9,289.8 L511.0,297.4 L512.1,304.2 L510.5,303.3 L507.9,296.5 L505.7,291.4 L506.3,283.8 L507.0,278.0 Z"/>
<path d="M531.0,303.2 L532.9,304.2 L535.1,309.3 L536.6,312.3 L533.0,314.1 L531.8,309.9 Z"/>
<path d="M506.1,326.3 L510.8,326.1 L517.7,330.9 L522.1,335.7 L524.8,341.0 L522.0,339.8 L518.3,334.4 L512.6,330.5 Z"/>
<path d="M528.8,336.9 L531.4,338.0 L535.5,342.3 L539.6,348.2 L536.9,349.5 L532.5,348.2 L531.2,342.6 Z"/>
<path d="M634.9,308.5 L635.5,309.5 L633.3,313.5 L632.3,313.0 Z"/>
<path d="M701.0,326.7 L704.1,324.7 L704.5,329.5 L702.9,333.4 L700.9,330.5 Z"/>
<path d="M697.2,331.8 L699.1,332.4 L699.9,338.2 L698.4,337.2 Z"/>
<path d="M709.1,338.3 L712.3,336.9 L715.3,338.1 L717.3,341.9 L714.5,343.0 L712.6,344.0 L711.9,352.7 L712.1,360.3 L710.1,362.3 L708.6,358.5 L708.4,348.9 L709.0,343.1 Z"/>
<path d="M721.9,347.2 L725.7,347.8 L728.5,350.2 L733.4,346.8 L738.3,345.9 L745.1,343.3 L749.8,345.3 L752.6,347.1 L751.6,349.5 L745.8,350.8 L739.0,351.9 L737.5,357.1 L736.3,359.9 L734.4,357.1 L733.2,353.7 L728.4,352.9 L725.5,354.2 L722.7,351.4 Z"/>
<path d="M537.1,312.2 L521.6,320.6" fill="none" stroke-width="1"/>
</g>
<clipPath id="ib0"><path d="M701.0,326.7 L704.1,324.7 L704.5,329.5 L702.9,333.4 L700.9,330.5 Z"/></clipPath>
<g clip-path="url(#ib0)"><path d="M702.8,329.2 L705.9,327.2 L706.3,332.0 L704.7,335.9 L702.7,333.0 Z" fill="#08006a"/></g>
<clipPath id="ib1"><path d="M697.2,331.8 L699.1,332.4 L699.9,338.2 L698.4,337.2 Z"/></clipPath>
<g clip-path="url(#ib1)"><path d="M698.2,333.8 L700.1,334.4 L700.9,340.2 L699.4,339.2 Z" fill="#08006a"/></g>
<clipPath id="ib2"><path d="M709.1,338.3 L712.3,336.9 L715.3,338.1 L717.3,341.9 L714.5,343.0 L712.6,344.0 L711.9,352.7 L712.1,360.3 L710.1,362.3 L708.6,358.5 L708.4,348.9 L709.0,343.1 Z"/></clipPath>
<g clip-path="url(#ib2)"><path d="M711.4,341.7 L714.6,340.3 L717.6,341.5 L719.6,345.3 L716.8,346.4 L714.9,347.4 L714.2,356.1 L714.4,363.7 L712.4,365.7 L710.9,361.9 L710.7,352.3 L711.3,346.5 Z" fill="#08006a"/></g>
<clipPath id="ib3"><path d="M721.9,347.2 L725.7,347.8 L728.5,350.2 L733.4,346.8 L738.3,345.9 L745.1,343.3 L749.8,345.3 L752.6,347.1 L751.6,349.5 L745.8,350.8 L739.0,351.9 L737.5,357.1 L736.3,359.9 L734.4,357.1 L733.2,353.7 L728.4,352.9 L725.5,354.2 L722.7,351.4 Z"/></clipPath>
<g clip-path="url(#ib3)"><path d="M723.5,351.2 L727.3,351.8 L730.1,354.2 L735.0,350.8 L739.9,349.9 L746.7,347.3 L751.4,349.3 L754.2,351.1 L753.2,353.5 L747.4,354.8 L740.6,355.9 L739.1,361.1 L737.9,363.9 L736.0,361.1 L734.8,357.7 L730.0,356.9 L727.1,358.2 L724.3,355.4 Z" fill="#08006a"/></g>
<path d="M659.1,281.3 L692.1,325.8" stroke="#08006a" stroke-width="1.6" stroke-dasharray="5 1.5 3 2 7 1 2 2.5" fill="none"/>
</g>
<g fill="none" stroke="#000" stroke-width="1.3" stroke-linejoin="round" stroke-linecap="round">
<path d="M520.3,73.9 L518.9,77.8 L513.8,82.4 L512.3,84.7 L513.4,89.8 L512.6,96.2 L515.7,98.0 L518.0,103.1 L519.8,106.8 L523.0,110.9 L529.5,112.1 L531.8,108.6 L535.4,109.5 L538.2,107.5 L541.9,106.8 L544.2,102.2 L544.2,99.4 L549.2,97.1 L551.1,91.1 L555.7,89.5 L553.4,86.1 L554.7,82.0 L552.9,77.4 L553.6,73.9"/>
<path d="M480.2,179.0 L490.1,179.6 L492.6,177.9 L494.2,173.5 L496.3,173.1 L503.9,176.6 L509.4,181.4 L519.1,178.6 L528.7,174.5 L537.0,169.7 L548.0,162.1 L549.1,162.1 L549.1,154.8 L551.5,154.2 L551.5,149.7 L554.2,147.6 L552.2,144.8 L548.7,145.5 L546.0,141.8 L548.3,140.4 L550.1,136.6 L551.9,134.5 L574.5,133.2 L575.1,145.9 L583.2,145.9 L585.3,137.9 L583.2,136.8 L584.6,134.5 L587.3,133.8 L589.7,131.7 L591.5,134.5 L594.2,136.3 L599.4,136.1 L607.0,139.4 L612.5,137.5 L618.7,137.8 L624.2,139.4 L627.0,143.0 L630.4,143.6 L634.6,141.2 L639.4,142.2 L643.5,139.8 L645.6,136.4 L649.1,138.0 L652.5,137.8 L656.6,132.9 L659.4,136.1 L665.6,130.6 L659.9,131.6 L664.9,128.1 L669.1,126.0 L671.8,127.0 L676.6,123.3 L675.3,126.0 L678.0,128.1 L681.5,126.0 L682.9,122.6 L684.5,121.9 L684.5,116.4 L692.5,116.8 L692.8,121.2 L700.1,122.4 L703.5,132.1 L704.0,137.6 L699.4,138.7 L698.0,136.2 L696.0,137.9 L699.8,145.9 L707.0,143.8 L705.6,140.3 L707.7,140.6 L711.1,145.6 L715.5,143.1 L713.2,137.9 L714.6,136.9 L717.3,141.7 L727.0,136.5 L723.8,129.3 L715.3,132.8 L708.4,129.3 L715.3,125.9 L708.4,110.0 L720.1,104.5 L729.7,123.8 L734.6,123.1 L735.3,126.3 L728.8,128.6 L730.4,132.8 L740.1,127.9 L733.9,116.9 L736.6,115.2 L740.8,121.0 L745.9,116.6 L743.5,113.9 L741.5,115.5 L743.1,111.4 L732.9,103.1 L738.7,96.2 L753.6,108.3 L759.1,101.4 L757.3,99.2 L753.9,102.4 L741.5,90.7 L744.2,82.4 L751.1,79.4 L772.9,85.4 L773.9,75.5 L770.4,74.8 L769.1,80.3 L767.7,76.9 L762.9,74.8"/>
<path d="M507.5,85.8 L509.1,84.6" stroke-width="2.1"/>
<path d="M669.1,112.7 L671.1,117.1" stroke-width="1.6"/>
</g>
</g>
<g stroke="#000" fill="none">
<rect x="59.0" y="74.0" width="374.5" height="375.0" stroke-width="2"/>
<path d="M59.00,74.0 v-14.6 M59.00,449.0 v14.6 M59.0,74.00 h-14.6 M433.5,74.00 h14.6" stroke-width="2"/>
<path d="M70.70,74.0 v-7 M70.70,449.0 v7 M59.0,85.72 h-7 M433.5,85.72 h7" stroke-width="1.3"/>
<path d="M82.41,74.0 v-7 M82.41,449.0 v7 M59.0,97.44 h-7 M433.5,97.44 h7" stroke-width="1.3"/>
<path d="M94.11,74.0 v-7 M94.11,449.0 v7 M59.0,109.16 h-7 M433.5,109.16 h7" stroke-width="1.3"/>
<path d="M105.81,74.0 v-7 M105.81,449.0 v7 M59.0,120.88 h-7 M433.5,120.88 h7" stroke-width="1.3"/>
<path d="M117.52,74.0 v-7 M117.52,449.0 v7 M59.0,132.59 h-7 M433.5,132.59 h7" stroke-width="1.3"/>
<path d="M129.22,74.0 v-7 M129.22,449.0 v7 M59.0,144.31 h-7 M433.5,144.31 h7" stroke-width="1.3"/>
<path d="M140.92,74.0 v-7 M140.92,449.0 v7 M59.0,156.03 h-7 M433.5,156.03 h7" stroke-width="1.3"/>
<path d="M152.62,74.0 v-14.6 M152.62,449.0 v14.6 M59.0,167.75 h-14.6 M433.5,167.75 h14.6" stroke-width="2"/>
<path d="M164.33,74.0 v-7 M164.33,449.0 v7 M59.0,179.47 h-7 M433.5,179.47 h7" stroke-width="1.3"/>
<path d="M176.03,74.0 v-7 M176.03,449.0 v7 M59.0,191.19 h-7 M433.5,191.19 h7" stroke-width="1.3"/>
<path d="M187.73,74.0 v-7 M187.73,449.0 v7 M59.0,202.91 h-7 M433.5,202.91 h7" stroke-width="1.3"/>
<path d="M199.44,74.0 v-7 M199.44,449.0 v7 M59.0,214.62 h-7 M433.5,214.62 h7" stroke-width="1.3"/>
<path d="M211.14,74.0 v-7 M211.14,449.0 v7 M59.0,226.34 h-7 M433.5,226.34 h7" stroke-width="1.3"/>
<path d="M222.84,74.0 v-7 M222.84,449.0 v7 M59.0,238.06 h-7 M433.5,238.06 h7" stroke-width="1.3"/>
<path d="M234.55,74.0 v-7 M234.55,449.0 v7 M59.0,249.78 h-7 M433.5,249.78 h7" stroke-width="1.3"/>
<path d="M246.25,74.0 v-14.6 M246.25,449.0 v14.6 M59.0,261.50 h-14.6 M433.5,261.50 h14.6" stroke-width="2"/>
<path d="M257.95,74.0 v-7 M257.95,449.0 v7 M59.0,273.22 h-7 M433.5,273.22 h7" stroke-width="1.3"/>
<path d="M269.66,74.0 v-7 M269.66,449.0 v7 M59.0,284.94 h-7 M433.5,284.94 h7" stroke-width="1.3"/>
<path d="M281.36,74.0 v-7 M281.36,449.0 v7 M59.0,296.66 h-7 M433.5,296.66 h7" stroke-width="1.3"/>
<path d="M293.06,74.0 v-7 M293.06,449.0 v7 M59.0,308.38 h-7 M433.5,308.38 h7" stroke-width="1.3"/>
<path d="M304.77,74.0 v-7 M304.77,449.0 v7 M59.0,320.09 h-7 M433.5,320.09 h7" stroke-width="1.3"/>
<path d="M316.47,74.0 v-7 M316.47,449.0 v7 M59.0,331.81 h-7 M433.5,331.81 h7" stroke-width="1.3"/>
<path d="M328.17,74.0 v-7 M328.17,449.0 v7 M59.0,343.53 h-7 M433.5,343.53 h7" stroke-width="1.3"/>
<path d="M339.88,74.0 v-14.6 M339.88,449.0 v14.6 M59.0,355.25 h-14.6 M433.5,355.25 h14.6" stroke-width="2"/>
<path d="M351.58,74.0 v-7 M351.58,449.0 v7 M59.0,366.97 h-7 M433.5,366.97 h7" stroke-width="1.3"/>
<path d="M363.28,74.0 v-7 M363.28,449.0 v7 M59.0,378.69 h-7 M433.5,378.69 h7" stroke-width="1.3"/>
<path d="M374.98,74.0 v-7 M374.98,449.0 v7 M59.0,390.41 h-7 M433.5,390.41 h7" stroke-width="1.3"/>
<path d="M386.69,74.0 v-7 M386.69,449.0 v7 M59.0,402.12 h-7 M433.5,402.12 h7" stroke-width="1.3"/>
<path d="M398.39,74.0 v-7 M398.39,449.0 v7 M59.0,413.84 h-7 M433.5,413.84 h7" stroke-width="1.3"/>
<path d="M410.09,74.0 v-7 M410.09,449.0 v7 M59.0,425.56 h-7 M433.5,425.56 h7" stroke-width="1.3"/>
<path d="M421.80,74.0 v-7 M421.80,449.0 v7 M59.0,437.28 h-7 M433.5,437.28 h7" stroke-width="1.3"/>
<path d="M433.50,74.0 v-14.6 M433.50,449.0 v14.6 M59.0,449.00 h-14.6 M433.5,449.00 h14.6" stroke-width="2"/>
</g>
<g stroke="#000" fill="none">
<rect x="480.3" y="74.0" width="374.3" height="375.0" stroke-width="2"/>
<path d="M480.30,74.0 v-14.6 M480.30,449.0 v14.6 M480.3,74.00 h-14.6 M854.6,74.00 h14.6" stroke-width="2"/>
<path d="M492.00,74.0 v-7 M492.00,449.0 v7 M480.3,85.72 h-7 M854.6,85.72 h7" stroke-width="1.3"/>
<path d="M503.69,74.0 v-7 M503.69,449.0 v7 M480.3,97.44 h-7 M854.6,97.44 h7" stroke-width="1.3"/>
<path d="M515.39,74.0 v-7 M515.39,449.0 v7 M480.3,109.16 h-7 M854.6,109.16 h7" stroke-width="1.3"/>
<path d="M527.09,74.0 v-7 M527.09,449.0 v7 M480.3,120.88 h-7 M854.6,120.88 h7" stroke-width="1.3"/>
<path d="M538.78,74.0 v-7 M538.78,449.0 v7 M480.3,132.59 h-7 M854.6,132.59 h7" stroke-width="1.3"/>
<path d="M550.48,74.0 v-7 M550.48,449.0 v7 M480.3,144.31 h-7 M854.6,144.31 h7" stroke-width="1.3"/>
<path d="M562.18,74.0 v-7 M562.18,449.0 v7 M480.3,156.03 h-7 M854.6,156.03 h7" stroke-width="1.3"/>
<path d="M573.88,74.0 v-14.6 M573.88,449.0 v14.6 M480.3,167.75 h-14.6 M854.6,167.75 h14.6" stroke-width="2"/>
<path d="M585.57,74.0 v-7 M585.57,449.0 v7 M480.3,179.47 h-7 M854.6,179.47 h7" stroke-width="1.3"/>
<path d="M597.27,74.0 v-7 M597.27,449.0 v7 M480.3,191.19 h-7 M854.6,191.19 h7" stroke-width="1.3"/>
<path d="M608.97,74.0 v-7 M608.97,449.0 v7 M480.3,202.91 h-7 M854.6,202.91 h7" stroke-width="1.3"/>
<path d="M620.66,74.0 v-7 M620.66,449.0 v7 M480.3,214.62 h-7 M854.6,214.62 h7" stroke-width="1.3"/>
<path d="M632.36,74.0 v-7 M632.36,449.0 v7 M480.3,226.34 h-7 M854.6,226.34 h7" stroke-width="1.3"/>
<path d="M644.06,74.0 v-7 M644.06,449.0 v7 M480.3,238.06 h-7 M854.6,238.06 h7" stroke-width="1.3"/>
<path d="M655.75,74.0 v-7 M655.75,449.0 v7 M480.3,249.78 h-7 M854.6,249.78 h7" stroke-width="1.3"/>
<path d="M667.45,74.0 v-14.6 M667.45,449.0 v14.6 M480.3,261.50 h-14.6 M854.6,261.50 h14.6" stroke-width="2"/>
<path d="M679.15,74.0 v-7 M679.15,449.0 v7 M480.3,273.22 h-7 M854.6,273.22 h7" stroke-width="1.3"/>
<path d="M690.84,74.0 v-7 M690.84,449.0 v7 M480.3,284.94 h-7 M854.6,284.94 h7" stroke-width="1.3"/>
<path d="M702.54,74.0 v-7 M702.54,449.0 v7 M480.3,296.66 h-7 M854.6,296.66 h7" stroke-width="1.3"/>
<path d="M714.24,74.0 v-7 M714.24,449.0 v7 M480.3,308.38 h-7 M854.6,308.38 h7" stroke-width="1.3"/>
<path d="M725.93,74.0 v-7 M725.93,449.0 v7 M480.3,320.09 h-7 M854.6,320.09 h7" stroke-width="1.3"/>
<path d="M737.63,74.0 v-7 M737.63,449.0 v7 M480.3,331.81 h-7 M854.6,331.81 h7" stroke-width="1.3"/>
<path d="M749.33,74.0 v-7 M749.33,449.0 v7 M480.3,343.53 h-7 M854.6,343.53 h7" stroke-width="1.3"/>
<path d="M761.03,74.0 v-14.6 M761.03,449.0 v14.6 M480.3,355.25 h-14.6 M854.6,355.25 h14.6" stroke-width="2"/>
<path d="M772.72,74.0 v-7 M772.72,449.0 v7 M480.3,366.97 h-7 M854.6,366.97 h7" stroke-width="1.3"/>
<path d="M784.42,74.0 v-7 M784.42,449.0 v7 M480.3,378.69 h-7 M854.6,378.69 h7" stroke-width="1.3"/>
<path d="M796.12,74.0 v-7 M796.12,449.0 v7 M480.3,390.41 h-7 M854.6,390.41 h7" stroke-width="1.3"/>
<path d="M807.81,74.0 v-7 M807.81,449.0 v7 M480.3,402.12 h-7 M854.6,402.12 h7" stroke-width="1.3"/>
<path d="M819.51,74.0 v-7 M819.51,449.0 v7 M480.3,413.84 h-7 M854.6,413.84 h7" stroke-width="1.3"/>
<path d="M831.21,74.0 v-7 M831.21,449.0 v7 M480.3,425.56 h-7 M854.6,425.56 h7" stroke-width="1.3"/>
<path d="M842.90,74.0 v-7 M842.90,449.0 v7 M480.3,437.28 h-7 M854.6,437.28 h7" stroke-width="1.3"/>
<path d="M854.60,74.0 v-14.6 M854.60,449.0 v14.6 M480.3,449.00 h-14.6 M854.6,449.00 h14.6" stroke-width="2"/>
</g>
<rect x="59.00" y="509.6" width="9.20" height="9.199999999999932" fill="rgb(0,0,0)"/>
<rect x="68.10" y="509.6" width="9.20" height="9.199999999999932" fill="rgb(0,0,0)"/>
<rect x="77.20" y="509.6" width="9.20" height="9.199999999999932" fill="rgb(0,0,0)"/>
<rect x="86.30" y="509.6" width="9.20" height="9.199999999999932" fill="rgb(0,0,0)"/>
<rect x="95.40" y="509.6" width="9.20" height="9.199999999999932" fill="rgb(0,0,0)"/>
<rect x="104.50" y="509.6" width="9.20" height="9.199999999999932" fill="rgb(0,0,0)"/>
<rect x="113.60" y="509.6" width="9.20" height="9.199999999999932" fill="rgb(0,0,0)"/>
<rect x="122.70" y="509.6" width="9.20" height="9.199999999999932" fill="rgb(0,0,0)"/>
<rect x="131.80" y="509.6" width="9.20" height="9.199999999999932" fill="rgb(0,0,0)"/>
<rect x="140.90" y="509.6" width="9.20" height="9.199999999999932" fill="rgb(0,0,0)"/>
<rect x="150.00" y="509.6" width="9.20" height="9.199999999999932" fill="rgb(10,10,10)"/>
<rect x="159.10" y="509.6" width="9.20" height="9.199999999999932" fill="rgb(20,20,20)"/>
<rect x="168.20" y="509.6" width="9.20" height="9.199999999999932" fill="rgb(29,29,29)"/>
<rect x="177.30" y="509.6" width="9.20" height="9.199999999999932" fill="rgb(39,39,39)"/>
<rect x="186.40" y="509.6" width="9.20" height="9.199999999999932" fill="rgb(49,49,49)"/>
<rect x="195.50" y="509.6" width="9.20" height="9.199999999999932" fill="rgb(59,59,59)"/>
<rect x="204.60" y="509.6" width="9.20" height="9.199999999999932" fill="rgb(69,69,69)"/>
<rect x="213.70" y="509.6" width="9.20" height="9.199999999999932" fill="rgb(78,78,78)"/>
<rect x="222.80" y="509.6" width="9.20" height="9.199999999999932" fill="rgb(88,88,88)"/>
<rect x="231.90" y="509.6" width="9.20" height="9.199999999999932" fill="rgb(98,98,98)"/>
<rect x="241.00" y="509.6" width="9.20" height="9.199999999999932" fill="rgb(108,108,108)"/>
<rect x="250.10" y="509.6" width="9.20" height="9.199999999999932" fill="rgb(118,118,118)"/>
<rect x="259.20" y="509.6" width="9.20" height="9.199999999999932" fill="rgb(128,128,128)"/>
<rect x="268.30" y="509.6" width="9.20" height="9.199999999999932" fill="rgb(137,137,137)"/>
<rect x="277.40" y="509.6" width="9.20" height="9.199999999999932" fill="rgb(147,147,147)"/>
<rect x="286.50" y="509.6" width="9.20" height="9.199999999999932" fill="rgb(157,157,157)"/>
<rect x="295.60" y="509.6" width="9.20" height="9.199999999999932" fill="rgb(167,167,167)"/>
<rect x="304.70" y="509.6" width="9.20" height="9.199999999999932" fill="rgb(177,177,177)"/>
<rect x="313.80" y="509.6" width="9.20" height="9.199999999999932" fill="rgb(186,186,186)"/>
<rect x="322.90" y="509.6" width="9.20" height="9.199999999999932" fill="rgb(196,196,196)"/>
<rect x="332.00" y="509.6" width="9.20" height="9.199999999999932" fill="rgb(206,206,206)"/>
<rect x="341.10" y="509.6" width="9.20" height="9.199999999999932" fill="rgb(216,216,216)"/>
<rect x="350.20" y="509.6" width="9.20" height="9.199999999999932" fill="rgb(226,226,226)"/>
<rect x="359.30" y="509.6" width="9.20" height="9.199999999999932" fill="rgb(235,235,235)"/>
<rect x="368.40" y="509.6" width="9.20" height="9.199999999999932" fill="rgb(245,245,245)"/>
<rect x="377.50" y="509.6" width="9.20" height="9.199999999999932" fill="rgb(255,255,255)"/>
<path d="M386.60,509.6 L395.50,514.2 L386.60,518.8Z" fill="#ffff00"/>
<path d="M59.0,509.6 H386.60 L395.50,514.2 L386.60,518.8 H59.0ZM68.10,509.6 V518.8M77.20,509.6 V518.8M86.30,509.6 V518.8M95.40,509.6 V518.8M104.50,509.6 V518.8M113.60,509.6 V518.8M122.70,509.6 V518.8M131.80,509.6 V518.8M140.90,509.6 V518.8M150.00,509.6 V518.8M159.10,509.6 V518.8M168.20,509.6 V518.8M177.30,509.6 V518.8M186.40,509.6 V518.8M195.50,509.6 V518.8M204.60,509.6 V518.8M213.70,509.6 V518.8M222.80,509.6 V518.8M231.90,509.6 V518.8M241.00,509.6 V518.8M250.10,509.6 V518.8M259.20,509.6 V518.8M268.30,509.6 V518.8M277.40,509.6 V518.8M286.50,509.6 V518.8M295.60,509.6 V518.8M304.70,509.6 V518.8M313.80,509.6 V518.8M322.90,509.6 V518.8M332.00,509.6 V518.8M341.10,509.6 V518.8M350.20,509.6 V518.8M359.30,509.6 V518.8M368.40,509.6 V518.8M377.50,509.6 V518.8M386.60,509.6 V518.8" fill="none" stroke="#000" stroke-width="2" stroke-linejoin="miter"/>
<path d="M57.90,518.8 L60.10,518.8 L59.90,531.80 L59.00,534.80 L58.10,531.80ZM67.00,518.8 L69.20,518.8 L69.00,524.60 L68.10,527.60 L67.20,524.60ZM76.10,518.8 L78.30,518.8 L78.10,524.60 L77.20,527.60 L76.30,524.60ZM85.20,518.8 L87.40,518.8 L87.20,524.60 L86.30,527.60 L85.40,524.60ZM94.30,518.8 L96.50,518.8 L96.30,524.60 L95.40,527.60 L94.50,524.60ZM103.40,518.8 L105.60,518.8 L105.40,531.80 L104.50,534.80 L103.60,531.80ZM112.50,518.8 L114.70,518.8 L114.50,524.60 L113.60,527.60 L112.70,524.60ZM121.60,518.8 L123.80,518.8 L123.60,524.60 L122.70,527.60 L121.80,524.60ZM130.70,518.8 L132.90,518.8 L132.70,524.60 L131.80,527.60 L130.90,524.60ZM139.80,518.8 L142.00,518.8 L141.80,524.60 L140.90,527.60 L140.00,524.60ZM148.90,518.8 L151.10,518.8 L150.90,531.80 L150.00,534.80 L149.10,531.80ZM158.00,518.8 L160.20,518.8 L160.00,524.60 L159.10,527.60 L158.20,524.60ZM167.10,518.8 L169.30,518.8 L169.10,524.60 L168.20,527.60 L167.30,524.60ZM176.20,518.8 L178.40,518.8 L178.20,524.60 L177.30,527.60 L176.40,524.60ZM185.30,518.8 L187.50,518.8 L187.30,524.60 L186.40,527.60 L185.50,524.60ZM194.40,518.8 L196.60,518.8 L196.40,531.80 L195.50,534.80 L194.60,531.80ZM203.50,518.8 L205.70,518.8 L205.50,524.60 L204.60,527.60 L203.70,524.60ZM212.60,518.8 L214.80,518.8 L214.60,524.60 L213.70,527.60 L212.80,524.60ZM221.70,518.8 L223.90,518.8 L223.70,524.60 L222.80,527.60 L221.90,524.60ZM230.80,518.8 L233.00,518.8 L232.80,524.60 L231.90,527.60 L231.00,524.60ZM239.90,518.8 L242.10,518.8 L241.90,531.80 L241.00,534.80 L240.10,531.80ZM249.00,518.8 L251.20,518.8 L251.00,524.60 L250.10,527.60 L249.20,524.60ZM258.10,518.8 L260.30,518.8 L260.10,524.60 L259.20,527.60 L258.30,524.60ZM267.20,518.8 L269.40,518.8 L269.20,524.60 L268.30,527.60 L267.40,524.60ZM276.30,518.8 L278.50,518.8 L278.30,524.60 L277.40,527.60 L276.50,524.60ZM285.40,518.8 L287.60,518.8 L287.40,531.80 L286.50,534.80 L285.60,531.80ZM294.50,518.8 L296.70,518.8 L296.50,524.60 L295.60,527.60 L294.70,524.60ZM303.60,518.8 L305.80,518.8 L305.60,524.60 L304.70,527.60 L303.80,524.60ZM312.70,518.8 L314.90,518.8 L314.70,524.60 L313.80,527.60 L312.90,524.60ZM321.80,518.8 L324.00,518.8 L323.80,524.60 L322.90,527.60 L322.00,524.60ZM330.90,518.8 L333.10,518.8 L332.90,531.80 L332.00,534.80 L331.10,531.80ZM340.00,518.8 L342.20,518.8 L342.00,524.60 L341.10,527.60 L340.20,524.60ZM349.10,518.8 L351.30,518.8 L351.10,524.60 L350.20,527.60 L349.30,524.60ZM358.20,518.8 L360.40,518.8 L360.20,524.60 L359.30,527.60 L358.40,524.60ZM367.30,518.8 L369.50,518.8 L369.30,524.60 L368.40,527.60 L367.50,524.60ZM376.40,518.8 L378.60,518.8 L378.40,531.80 L377.50,534.80 L376.60,531.80ZM385.50,518.8 L387.70,518.8 L387.50,524.60 L386.60,527.60 L385.70,524.60Z" fill="#000"/>
<rect x="480.12" y="509.6" width="8.72" height="9.199999999999932" fill="rgb(210,255,255)"/>
<rect x="488.75" y="509.6" width="8.72" height="9.199999999999932" fill="rgb(185,255,255)"/>
<rect x="497.38" y="509.6" width="8.72" height="9.199999999999932" fill="rgb(160,255,255)"/>
<rect x="506.00" y="509.6" width="8.72" height="9.199999999999932" fill="rgb(135,255,255)"/>
<rect x="514.62" y="509.6" width="8.72" height="9.199999999999932" fill="rgb(110,255,255)"/>
<rect x="523.25" y="509.6" width="8.72" height="9.199999999999932" fill="rgb(75,235,255)"/>
<rect x="531.88" y="509.6" width="8.72" height="9.199999999999932" fill="rgb(50,200,255)"/>
<rect x="540.50" y="509.6" width="8.72" height="9.199999999999932" fill="rgb(35,175,255)"/>
<rect x="549.12" y="509.6" width="8.72" height="9.199999999999932" fill="rgb(15,145,255)"/>
<rect x="557.75" y="509.6" width="8.72" height="9.199999999999932" fill="rgb(0,110,255)"/>
<rect x="566.38" y="509.6" width="8.72" height="9.199999999999932" fill="rgb(0,80,255)"/>
<rect x="575.00" y="509.6" width="8.72" height="9.199999999999932" fill="rgb(0,50,255)"/>
<rect x="583.62" y="509.6" width="8.72" height="9.199999999999932" fill="rgb(0,20,255)"/>
<rect x="592.25" y="509.6" width="8.72" height="9.199999999999932" fill="rgb(0,0,250)"/>
<rect x="600.88" y="509.6" width="8.72" height="9.199999999999932" fill="rgb(0,0,215)"/>
<rect x="609.50" y="509.6" width="8.72" height="9.199999999999932" fill="rgb(0,0,180)"/>
<rect x="618.12" y="509.6" width="8.72" height="9.199999999999932" fill="rgb(0,0,150)"/>
<rect x="626.75" y="509.6" width="8.72" height="9.199999999999932" fill="rgb(0,0,120)"/>
<rect x="635.38" y="509.6" width="8.72" height="9.199999999999932" fill="rgb(0,0,90)"/>
<rect x="644.00" y="509.6" width="8.72" height="9.199999999999932" fill="rgb(235,0,0)"/>
<rect x="652.62" y="509.6" width="8.72" height="9.199999999999932" fill="rgb(255,20,0)"/>
<rect x="661.25" y="509.6" width="8.72" height="9.199999999999932" fill="rgb(255,50,0)"/>
<rect x="669.88" y="509.6" width="8.72" height="9.199999999999932" fill="rgb(255,75,0)"/>
<rect x="678.50" y="509.6" width="8.72" height="9.199999999999932" fill="rgb(255,100,0)"/>
<rect x="687.12" y="509.6" width="8.72" height="9.199999999999932" fill="rgb(255,125,0)"/>
<rect x="695.75" y="509.6" width="8.72" height="9.199999999999932" fill="rgb(255,145,0)"/>
<rect x="704.38" y="509.6" width="8.72" height="9.199999999999932" fill="rgb(255,165,20)"/>
<rect x="713.00" y="509.6" width="8.72" height="9.199999999999932" fill="rgb(255,185,45)"/>
<rect x="721.62" y="509.6" width="8.72" height="9.199999999999932" fill="rgb(255,200,55)"/>
<rect x="730.25" y="509.6" width="8.72" height="9.199999999999932" fill="rgb(255,225,70)"/>
<rect x="738.88" y="509.6" width="8.72" height="9.199999999999932" fill="rgb(255,255,85)"/>
<rect x="747.50" y="509.6" width="8.72" height="9.199999999999932" fill="rgb(255,255,105)"/>
<rect x="756.12" y="509.6" width="8.72" height="9.199999999999932" fill="rgb(255,255,125)"/>
<rect x="764.75" y="509.6" width="8.72" height="9.199999999999932" fill="rgb(255,255,145)"/>
<rect x="773.38" y="509.6" width="8.72" height="9.199999999999932" fill="rgb(255,255,170)"/>
<rect x="782.00" y="509.6" width="8.72" height="9.199999999999932" fill="rgb(255,255,190)"/>
<rect x="790.62" y="509.6" width="8.72" height="9.199999999999932" fill="rgb(255,255,210)"/>
<rect x="799.25" y="509.6" width="8.72" height="9.199999999999932" fill="rgb(255,255,225)"/>
<path d="M480.12,509.6 L472.32,514.2 L480.12,518.8Z" fill="rgb(225,255,255)"/>
<path d="M807.88,509.6 L815.67,514.2 L807.88,518.8Z" fill="rgb(255,255,238)"/>
<path d="M480.12,509.6 H807.88 L815.67,514.2 L807.88,518.8 H480.12 L472.32,514.2ZM480.12,509.6 V518.8M488.75,509.6 V518.8M497.38,509.6 V518.8M506.00,509.6 V518.8M514.62,509.6 V518.8M523.25,509.6 V518.8M531.88,509.6 V518.8M540.50,509.6 V518.8M549.12,509.6 V518.8M557.75,509.6 V518.8M566.38,509.6 V518.8M575.00,509.6 V518.8M583.62,509.6 V518.8M592.25,509.6 V518.8M600.88,509.6 V518.8M609.50,509.6 V518.8M618.12,509.6 V518.8M626.75,509.6 V518.8M635.38,509.6 V518.8M644.00,509.6 V518.8M652.62,509.6 V518.8M661.25,509.6 V518.8M669.88,509.6 V518.8M678.50,509.6 V518.8M687.12,509.6 V518.8M695.75,509.6 V518.8M704.38,509.6 V518.8M713.00,509.6 V518.8M721.62,509.6 V518.8M730.25,509.6 V518.8M738.88,509.6 V518.8M747.50,509.6 V518.8M756.12,509.6 V518.8M764.75,509.6 V518.8M773.38,509.6 V518.8M782.00,509.6 V518.8M790.62,509.6 V518.8M799.25,509.6 V518.8M807.88,509.6 V518.8" fill="none" stroke="#000" stroke-width="2"/>
<path d="M479.02,518.8 L481.23,518.8 L481.02,524.60 L480.12,527.60 L479.23,524.60ZM487.65,518.8 L489.85,518.8 L489.65,524.60 L488.75,527.60 L487.85,524.60ZM496.27,518.8 L498.48,518.8 L498.27,524.60 L497.38,527.60 L496.48,524.60ZM504.90,518.8 L507.10,518.8 L506.90,531.80 L506.00,534.80 L505.10,531.80ZM513.52,518.8 L515.73,518.8 L515.52,524.60 L514.62,527.60 L513.73,524.60ZM522.15,518.8 L524.35,518.8 L524.15,524.60 L523.25,527.60 L522.35,524.60ZM530.77,518.8 L532.98,518.8 L532.77,524.60 L531.88,527.60 L530.98,524.60ZM539.40,518.8 L541.60,518.8 L541.40,524.60 L540.50,527.60 L539.60,524.60ZM548.02,518.8 L550.23,518.8 L550.02,524.60 L549.12,527.60 L548.23,524.60ZM556.65,518.8 L558.85,518.8 L558.65,524.60 L557.75,527.60 L556.85,524.60ZM565.27,518.8 L567.48,518.8 L567.27,524.60 L566.38,527.60 L565.48,524.60ZM573.90,518.8 L576.10,518.8 L575.90,531.80 L575.00,534.80 L574.10,531.80ZM582.52,518.8 L584.73,518.8 L584.52,524.60 L583.62,527.60 L582.73,524.60ZM591.15,518.8 L593.35,518.8 L593.15,524.60 L592.25,527.60 L591.35,524.60ZM599.77,518.8 L601.98,518.8 L601.77,524.60 L600.88,527.60 L599.98,524.60ZM608.40,518.8 L610.60,518.8 L610.40,524.60 L609.50,527.60 L608.60,524.60ZM617.02,518.8 L619.23,518.8 L619.02,524.60 L618.12,527.60 L617.23,524.60ZM625.65,518.8 L627.85,518.8 L627.65,524.60 L626.75,527.60 L625.85,524.60ZM634.27,518.8 L636.48,518.8 L636.27,524.60 L635.38,527.60 L634.48,524.60ZM642.90,518.8 L645.10,518.8 L644.90,531.80 L644.00,534.80 L643.10,531.80ZM651.52,518.8 L653.73,518.8 L653.52,524.60 L652.62,527.60 L651.73,524.60ZM660.15,518.8 L662.35,518.8 L662.15,524.60 L661.25,527.60 L660.35,524.60ZM668.77,518.8 L670.98,518.8 L670.77,524.60 L669.88,527.60 L668.98,524.60ZM677.40,518.8 L679.60,518.8 L679.40,524.60 L678.50,527.60 L677.60,524.60ZM686.02,518.8 L688.23,518.8 L688.02,524.60 L687.12,527.60 L686.23,524.60ZM694.65,518.8 L696.85,518.8 L696.65,524.60 L695.75,527.60 L694.85,524.60ZM703.27,518.8 L705.48,518.8 L705.27,524.60 L704.38,527.60 L703.48,524.60ZM711.90,518.8 L714.10,518.8 L713.90,531.80 L713.00,534.80 L712.10,531.80ZM720.52,518.8 L722.73,518.8 L722.52,524.60 L721.62,527.60 L720.73,524.60ZM729.15,518.8 L731.35,518.8 L731.15,524.60 L730.25,527.60 L729.35,524.60ZM737.77,518.8 L739.98,518.8 L739.77,524.60 L738.88,527.60 L737.98,524.60ZM746.40,518.8 L748.60,518.8 L748.40,524.60 L747.50,527.60 L746.60,524.60ZM755.02,518.8 L757.23,518.8 L757.02,524.60 L756.12,527.60 L755.23,524.60ZM763.65,518.8 L765.85,518.8 L765.65,524.60 L764.75,527.60 L763.85,524.60ZM772.27,518.8 L774.48,518.8 L774.27,524.60 L773.38,527.60 L772.48,524.60ZM780.90,518.8 L783.10,518.8 L782.90,531.80 L782.00,534.80 L781.10,531.80ZM789.52,518.8 L791.73,518.8 L791.52,524.60 L790.62,527.60 L789.73,524.60ZM798.15,518.8 L800.35,518.8 L800.15,524.60 L799.25,527.60 L798.35,524.60ZM806.77,518.8 L808.98,518.8 L808.77,524.60 L807.88,527.60 L806.98,524.60Z" fill="#000"/>
<text transform="translate(60.6,24.3) scale(1.0,1)" font-size="32" text-anchor="start" stroke="#000" stroke-width="0.5" stroke-linejoin="round" textLength="524" lengthAdjust="spacing">Fukuoka, 20190129 [20:27, el=0.0]</text>
<text transform="translate(59.6,58.2) scale(1.0,1)" font-size="27.3" text-anchor="start" stroke="#000" stroke-width="0.5" stroke-linejoin="round" textLength="55.3" lengthAdjust="spacingAndGlyphs">SNR</text>
<text transform="translate(123.6,58.2) scale(1.0,1)" font-size="27.3" text-anchor="start" stroke="#000" stroke-width="0.5" stroke-linejoin="round" textLength="56.0" lengthAdjust="spacingAndGlyphs">[dB]</text>
<text transform="translate(480.8,58.2) scale(1.0,1)" font-size="27.3" text-anchor="start" stroke="#000" stroke-width="0.5" stroke-linejoin="round" textLength="107.5" lengthAdjust="spacingAndGlyphs">Doppler</text>
<text transform="translate(600.9,58.2) scale(1.0,1)" font-size="27.3" text-anchor="start" stroke="#000" stroke-width="0.5" stroke-linejoin="round" textLength="107.5" lengthAdjust="spacingAndGlyphs">Velocity</text>
<text transform="translate(718.9,58.2) scale(1.0,1)" font-size="27.3" text-anchor="start" stroke="#000" stroke-width="0.5" stroke-linejoin="round" textLength="72.4" lengthAdjust="spacingAndGlyphs">[m/s]</text>
<text transform="translate(31.0,84.9) scale(0.925,1)" font-size="31.0" text-anchor="end" stroke="#000" stroke-width="0.3" stroke-linejoin="round">8</text>
<text transform="translate(31.0,178.65) scale(0.925,1)" font-size="31.0" text-anchor="end" stroke="#000" stroke-width="0.3" stroke-linejoin="round">4</text>
<text transform="translate(31.0,272.4) scale(0.925,1)" font-size="31.0" text-anchor="end" stroke="#000" stroke-width="0.3" stroke-linejoin="round">0</text>
<text transform="translate(31.0,366.15) scale(0.925,1)" font-size="31.0" text-anchor="end" stroke="#000" stroke-width="0.3" stroke-linejoin="round">−4</text>
<text transform="translate(31.0,459.9) scale(0.925,1)" font-size="31.0" text-anchor="end" stroke="#000" stroke-width="0.3" stroke-linejoin="round">−8</text>
<text transform="translate(59.0,500.5) scale(0.925,1)" font-size="31.0" text-anchor="middle" stroke="#000" stroke-width="0.3" stroke-linejoin="round">−8</text>
<text transform="translate(152.6,500.5) scale(0.925,1)" font-size="31.0" text-anchor="middle" stroke="#000" stroke-width="0.3" stroke-linejoin="round">−4</text>
<text transform="translate(246.2,500.5) scale(0.925,1)" font-size="31.0" text-anchor="middle" stroke="#000" stroke-width="0.3" stroke-linejoin="round">0</text>
<text transform="translate(339.9,500.5) scale(0.925,1)" font-size="31.0" text-anchor="middle" stroke="#000" stroke-width="0.3" stroke-linejoin="round">4</text>
<text transform="translate(433.5,500.5) scale(0.925,1)" font-size="31.0" text-anchor="middle" stroke="#000" stroke-width="0.3" stroke-linejoin="round">8</text>
<text transform="translate(480.3,500.5) scale(0.925,1)" font-size="31.0" text-anchor="middle" stroke="#000" stroke-width="0.3" stroke-linejoin="round">−8</text>
<text transform="translate(573.9,500.5) scale(0.925,1)" font-size="31.0" text-anchor="middle" stroke="#000" stroke-width="0.3" stroke-linejoin="round">−4</text>
<text transform="translate(667.5,500.5) scale(0.925,1)" font-size="31.0" text-anchor="middle" stroke="#000" stroke-width="0.3" stroke-linejoin="round">0</text>
<text transform="translate(761.0,500.5) scale(0.925,1)" font-size="31.0" text-anchor="middle" stroke="#000" stroke-width="0.3" stroke-linejoin="round">4</text>
<text transform="translate(854.6,500.5) scale(0.925,1)" font-size="31.0" text-anchor="middle" stroke="#000" stroke-width="0.3" stroke-linejoin="round">8</text>
<text transform="translate(59.0,570.7) scale(0.925,1)" font-size="31.0" text-anchor="middle" stroke="#000" stroke-width="0.3" stroke-linejoin="round">0</text>
<text transform="translate(104.5,570.7) scale(0.925,1)" font-size="31.0" text-anchor="middle" stroke="#000" stroke-width="0.3" stroke-linejoin="round">2.5</text>
<text transform="translate(150.0,570.7) scale(0.925,1)" font-size="31.0" text-anchor="middle" stroke="#000" stroke-width="0.3" stroke-linejoin="round">5</text>
<text transform="translate(195.5,570.7) scale(0.925,1)" font-size="31.0" text-anchor="middle" stroke="#000" stroke-width="0.3" stroke-linejoin="round">7.5</text>
<text transform="translate(241.0,570.7) scale(0.925,1)" font-size="31.0" text-anchor="middle" stroke="#000" stroke-width="0.3" stroke-linejoin="round">10</text>
<text transform="translate(286.5,570.7) scale(0.925,1)" font-size="31.0" text-anchor="middle" stroke="#000" stroke-width="0.3" stroke-linejoin="round">12.5</text>
<text transform="translate(332.0,570.7) scale(0.925,1)" font-size="31.0" text-anchor="middle" stroke="#000" stroke-width="0.3" stroke-linejoin="round">15</text>
<text transform="translate(377.5,570.7) scale(0.925,1)" font-size="31.0" text-anchor="middle" stroke="#000" stroke-width="0.3" stroke-linejoin="round">17.5</text>
<text transform="translate(506.0,570.7) scale(0.925,1)" font-size="31.0" text-anchor="middle" stroke="#000" stroke-width="0.3" stroke-linejoin="round">−8</text>
<text transform="translate(575.0,570.7) scale(0.925,1)" font-size="31.0" text-anchor="middle" stroke="#000" stroke-width="0.3" stroke-linejoin="round">−4</text>
<text transform="translate(644.0,570.7) scale(0.925,1)" font-size="31.0" text-anchor="middle" stroke="#000" stroke-width="0.3" stroke-linejoin="round">0</text>
<text transform="translate(713.0,570.7) scale(0.925,1)" font-size="31.0" text-anchor="middle" stroke="#000" stroke-width="0.3" stroke-linejoin="round">4</text>
<text transform="translate(782.0,570.7) scale(0.925,1)" font-size="31.0" text-anchor="middle" stroke="#000" stroke-width="0.3" stroke-linejoin="round">8</text>
</svg></body></html>
